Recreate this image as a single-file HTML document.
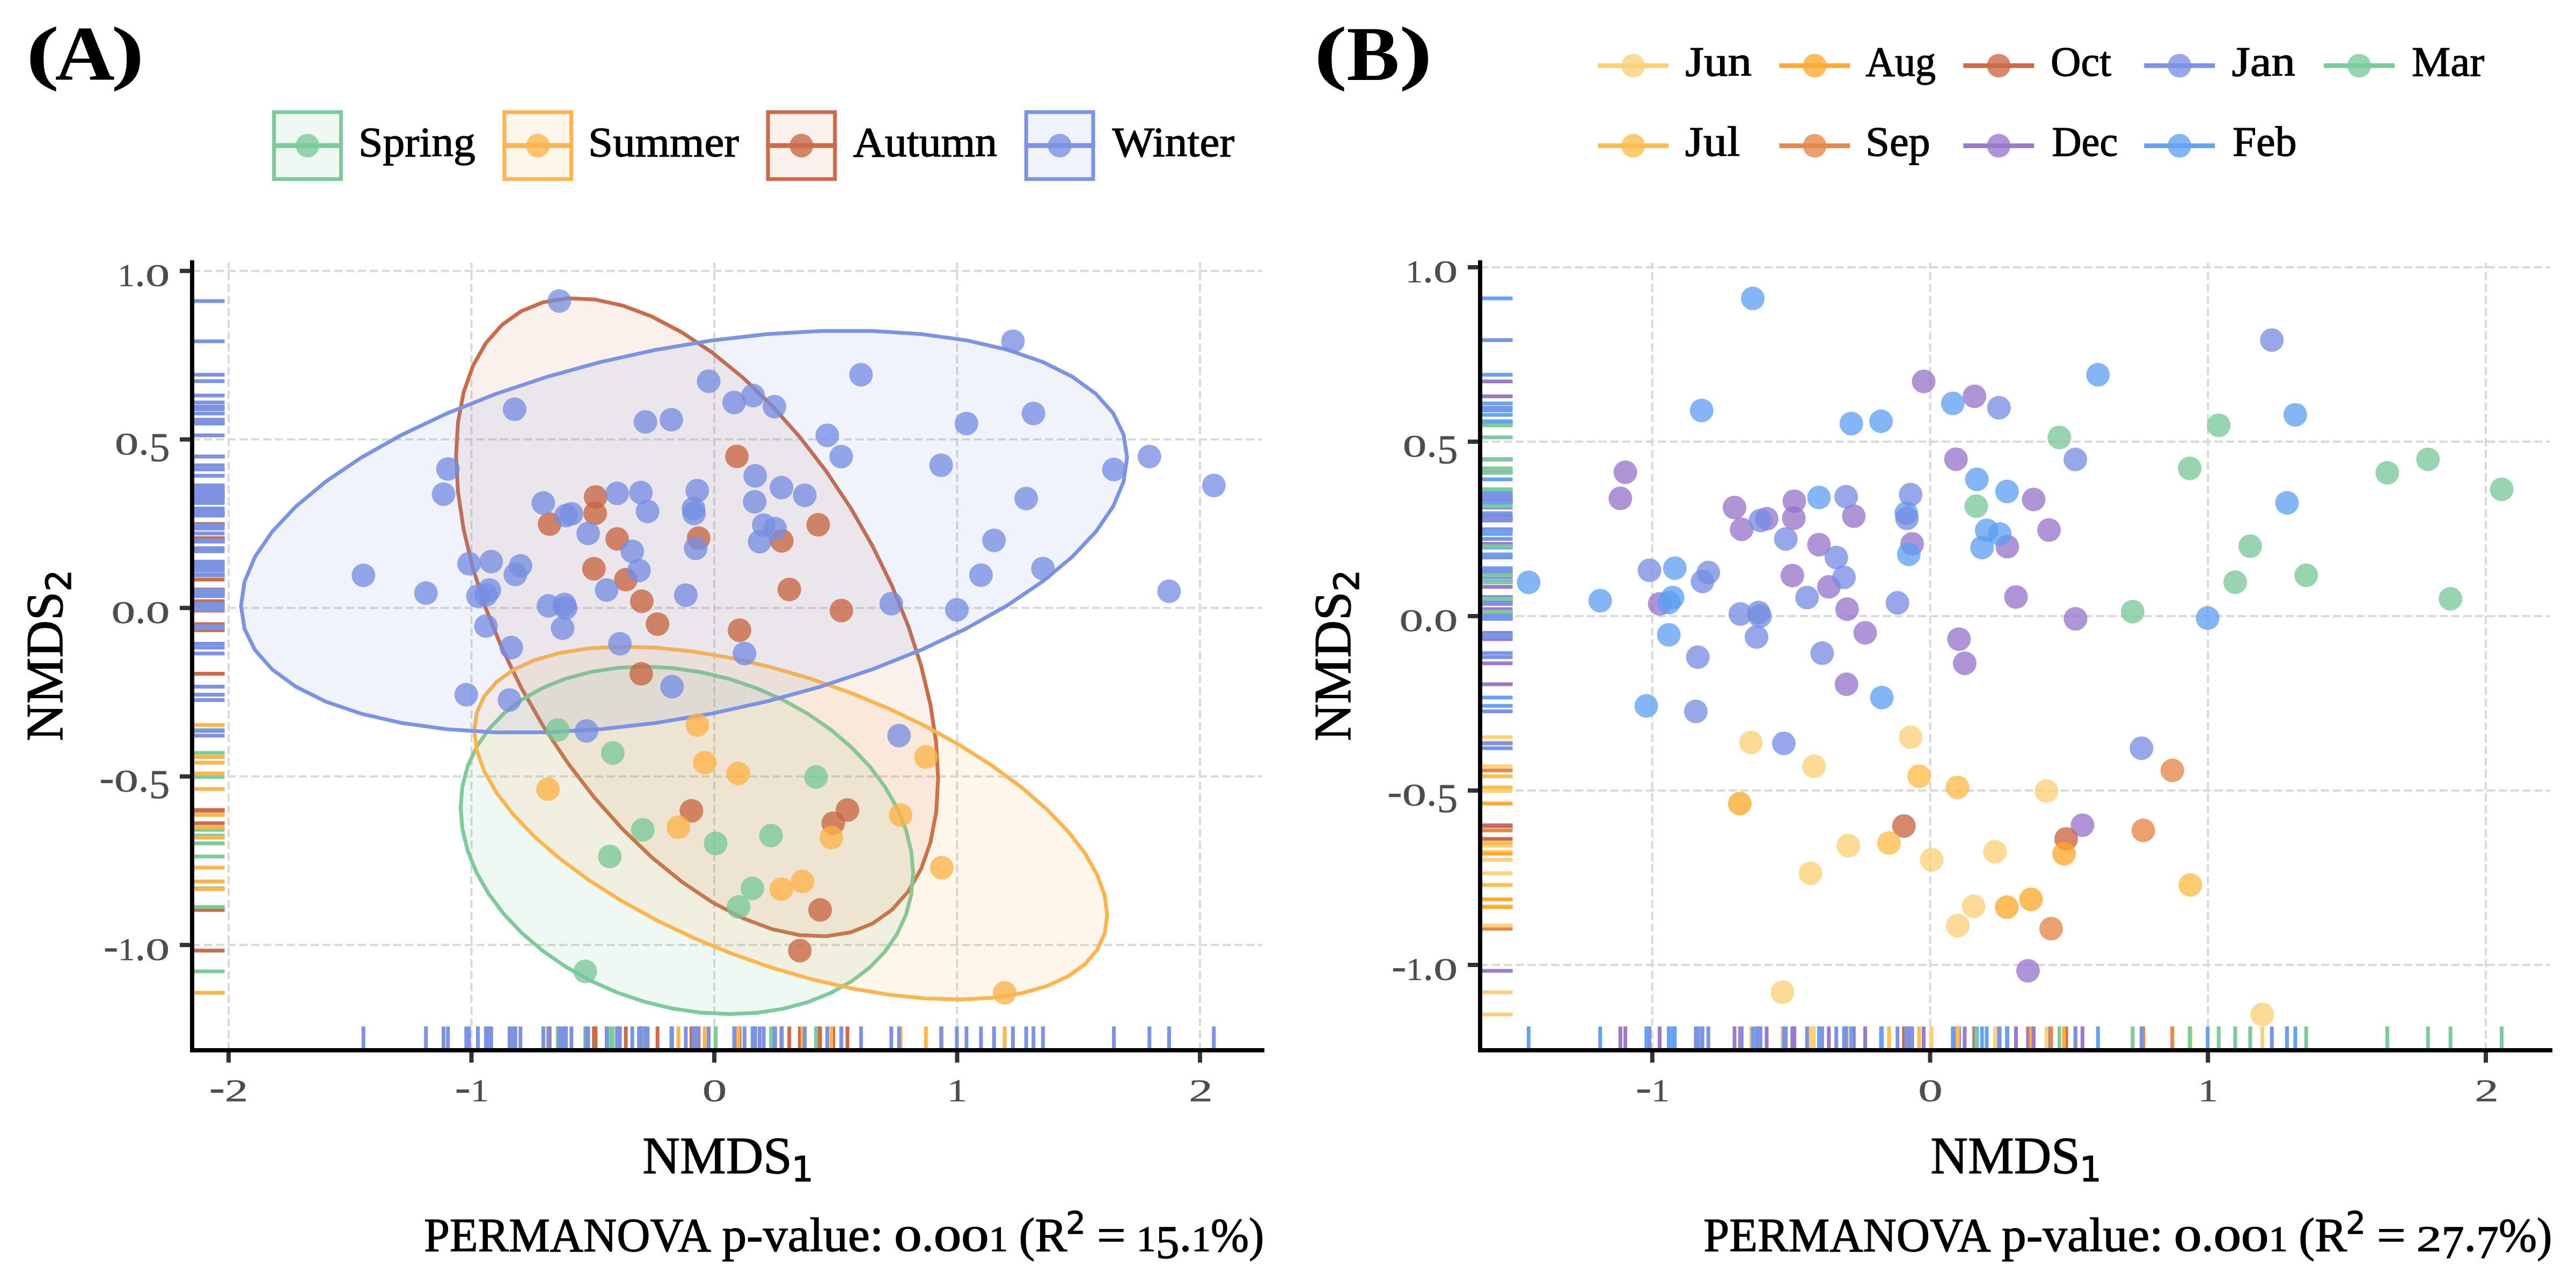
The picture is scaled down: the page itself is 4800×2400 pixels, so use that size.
<!DOCTYPE html>
<html lang="en"><head><meta charset="utf-8"><title>NMDS ordination</title><style>html,body{margin:0;padding:0;background:#fff}svg{display:block}</style></head><body>
<svg xmlns="http://www.w3.org/2000/svg" width="4800" height="2400" viewBox="0 0 4800 2400">
<rect width="4800" height="2400" fill="#fff"/>
<g>
<line x1="358" y1="504.8" x2="2352" y2="504.8" stroke="#D9D9D9" stroke-width="4" stroke-dasharray="15.2 6.87"/>
<line x1="358" y1="818.8" x2="2352" y2="818.8" stroke="#D9D9D9" stroke-width="4" stroke-dasharray="15.2 6.87"/>
<line x1="358" y1="1132.8" x2="2352" y2="1132.8" stroke="#D9D9D9" stroke-width="4" stroke-dasharray="15.2 6.87"/>
<line x1="358" y1="1446.8" x2="2352" y2="1446.8" stroke="#D9D9D9" stroke-width="4" stroke-dasharray="15.2 6.87"/>
<line x1="358" y1="1760.8" x2="2352" y2="1760.8" stroke="#D9D9D9" stroke-width="4" stroke-dasharray="15.2 6.87"/>
<line x1="426" y1="1957" x2="426" y2="489" stroke="#D9D9D9" stroke-width="4" stroke-dasharray="15.2 6.87"/>
<line x1="878.5" y1="1957" x2="878.5" y2="489" stroke="#D9D9D9" stroke-width="4" stroke-dasharray="15.2 6.87"/>
<line x1="1331" y1="1957" x2="1331" y2="489" stroke="#D9D9D9" stroke-width="4" stroke-dasharray="15.2 6.87"/>
<line x1="1783.5" y1="1957" x2="1783.5" y2="489" stroke="#D9D9D9" stroke-width="4" stroke-dasharray="15.2 6.87"/>
<line x1="2236" y1="1957" x2="2236" y2="489" stroke="#D9D9D9" stroke-width="4" stroke-dasharray="15.2 6.87"/>
<path d="M1748 1451 L1744.5 1384.4 L1733.9 1314 L1716.5 1241 L1692.5 1166.7 L1662.2 1092 L1626.3 1018.3 L1585.2 946.6 L1539.6 878.2 L1490.1 814.1 L1437.7 755.2 L1383.1 702.6 L1327.1 657 L1270.7 619.3 L1214.7 589.8 L1160.1 569.3 L1107.7 557.9 L1058.2 555.8 L1012.6 563.1 L971.5 579.7 L935.6 605.2 L905.3 639.4 L881.3 681.6 L863.9 731.2 L853.3 787.4 L849.8 849.3 L853.3 916 L863.9 986.4 L881.3 1059.3 L905.3 1133.7 L935.6 1208.3 L971.5 1282.1 L1012.6 1353.7 L1058.2 1422.1 L1107.7 1486.3 L1160.1 1545.1 L1214.7 1597.8 L1270.7 1643.3 L1327.1 1681.1 L1383.1 1710.5 L1437.7 1731.1 L1490.1 1742.5 L1539.6 1744.6 L1585.2 1737.3 L1626.3 1720.7 L1662.2 1695.1 L1692.5 1661 L1716.5 1618.8 L1733.9 1569.2 L1744.5 1513 L1748 1451 Z" fill="#CD7341" fill-opacity="0.1" stroke="#CB6B47" stroke-width="7" stroke-linejoin="round"/>
<path d="M1701.5 1627.2 L1698.1 1586.9 L1688.2 1546.2 L1671.9 1505.9 L1649.3 1466.5 L1621 1428.6 L1587.2 1393 L1548.6 1360 L1505.8 1330.3 L1459.4 1304.4 L1410.2 1282.5 L1358.9 1265.1 L1306.4 1252.5 L1253.4 1244.8 L1200.9 1242.1 L1149.6 1244.6 L1100.4 1252.1 L1054 1264.6 L1011.2 1281.8 L972.6 1303.5 L938.9 1329.4 L910.5 1359 L888 1391.8 L871.6 1427.4 L861.7 1465.2 L858.3 1504.5 L861.7 1544.9 L871.6 1585.5 L888 1625.9 L910.5 1665.3 L938.9 1703.1 L972.6 1738.8 L1011.2 1771.7 L1054 1801.4 L1100.4 1827.4 L1149.6 1849.2 L1200.9 1866.6 L1253.4 1879.3 L1306.4 1887 L1358.9 1889.6 L1410.2 1887.2 L1459.4 1879.6 L1505.8 1867.1 L1548.6 1849.9 L1587.2 1828.2 L1621 1802.4 L1649.3 1772.8 L1671.9 1739.9 L1688.2 1704.3 L1698.1 1666.6 L1701.5 1627.2 Z" fill="#69B987" fill-opacity="0.1" stroke="#7CCB9B" stroke-width="7" stroke-linejoin="round"/>
<path d="M2063.2 1705.5 L2058.5 1669 L2044.6 1630.4 L2021.8 1590.2 L1990.2 1549.2 L1950.5 1507.9 L1903.3 1467 L1849.4 1427.2 L1789.4 1389 L1724.6 1353.2 L1655.7 1320.2 L1584 1290.5 L1510.5 1264.7 L1436.5 1243.1 L1363 1226.1 L1291.3 1213.9 L1222.4 1206.8 L1157.5 1204.9 L1097.6 1208.1 L1043.6 1216.5 L996.4 1229.9 L956.7 1248 L925.2 1270.7 L902.3 1297.5 L888.4 1328 L883.8 1361.8 L888.4 1398.3 L902.3 1436.9 L925.2 1477.1 L956.7 1518.1 L996.4 1559.4 L1043.6 1600.3 L1097.6 1640.1 L1157.5 1678.3 L1222.4 1714.1 L1291.3 1747.2 L1363 1776.8 L1436.5 1802.6 L1510.5 1824.2 L1584 1841.2 L1655.7 1853.4 L1724.6 1860.5 L1789.4 1862.4 L1849.4 1859.2 L1903.3 1850.8 L1950.5 1837.5 L1990.2 1819.3 L2021.8 1796.6 L2044.6 1769.8 L2058.5 1739.3 L2063.2 1705.5 Z" fill="#FFA537" fill-opacity="0.1" stroke="#FFB54D" stroke-width="7" stroke-linejoin="round"/>
<path d="M2100.2 852.5 L2093.7 810 L2074.3 770.3 L2042.2 734 L1998.1 701.8 L1942.5 674.2 L1876.5 651.5 L1800.9 634.2 L1717 622.6 L1626.1 616.7 L1529.8 616.7 L1429.3 622.6 L1326.5 634.4 L1222.8 651.7 L1119.9 674.4 L1019.5 702.1 L923.1 734.3 L832.3 770.6 L748.4 810.3 L672.8 852.9 L606.7 897.7 L551.2 943.9 L507 990.9 L475 1037.8 L455.6 1084 L449.1 1128.8 L455.6 1171.4 L475 1211.1 L507 1247.3 L551.2 1279.5 L606.7 1307.2 L672.8 1329.8 L748.4 1347.1 L832.3 1358.8 L923.1 1364.7 L1019.5 1364.6 L1119.9 1358.7 L1222.8 1347 L1326.5 1329.6 L1429.3 1306.9 L1529.8 1279.3 L1626.1 1247 L1717 1210.8 L1800.9 1171 L1876.5 1128.4 L1942.5 1083.7 L1998.1 1037.4 L2042.2 990.5 L2074.3 943.5 L2093.7 897.3 L2100.2 852.5 Z" fill="#6987E1" fill-opacity="0.1" stroke="#7C92E3" stroke-width="7" stroke-linejoin="round"/>
<circle cx="1373.1" cy="850.4" r="22" fill="#C8633D" fill-opacity="0.76"/>
<circle cx="1024.1" cy="976.6" r="22" fill="#C8633D" fill-opacity="0.76"/>
<circle cx="1109.9" cy="925.9" r="22" fill="#C8633D" fill-opacity="0.76"/>
<circle cx="1109" cy="956.5" r="22" fill="#C8633D" fill-opacity="0.76"/>
<circle cx="1150" cy="1004.2" r="22" fill="#C8633D" fill-opacity="0.76"/>
<circle cx="1106.7" cy="1059.8" r="22" fill="#C8633D" fill-opacity="0.76"/>
<circle cx="1166.1" cy="1080.1" r="22" fill="#C8633D" fill-opacity="0.76"/>
<circle cx="1195.9" cy="1120.3" r="22" fill="#C8633D" fill-opacity="0.76"/>
<circle cx="1225.2" cy="1162.9" r="22" fill="#C8633D" fill-opacity="0.76"/>
<circle cx="1301.7" cy="1002.8" r="22" fill="#C8633D" fill-opacity="0.76"/>
<circle cx="1456.8" cy="1007.8" r="22" fill="#C8633D" fill-opacity="0.76"/>
<circle cx="1524.6" cy="977.8" r="22" fill="#C8633D" fill-opacity="0.76"/>
<circle cx="1470.8" cy="1098.4" r="22" fill="#C8633D" fill-opacity="0.76"/>
<circle cx="1567.8" cy="1137.7" r="22" fill="#C8633D" fill-opacity="0.76"/>
<circle cx="1378" cy="1174.3" r="22" fill="#C8633D" fill-opacity="0.76"/>
<circle cx="1194.8" cy="1255.5" r="22" fill="#C8633D" fill-opacity="0.76"/>
<circle cx="1579.1" cy="1509.3" r="22" fill="#C8633D" fill-opacity="0.76"/>
<circle cx="1490.4" cy="1771.3" r="22" fill="#C8633D" fill-opacity="0.76"/>
<circle cx="1288.4" cy="1510.8" r="22" fill="#C8633D" fill-opacity="0.76"/>
<circle cx="1552.6" cy="1533.9" r="22" fill="#C8633D" fill-opacity="0.76"/>
<circle cx="1528.1" cy="1695.5" r="22" fill="#C8633D" fill-opacity="0.76"/>
<circle cx="1039.3" cy="1360.2" r="22" fill="#75C896" fill-opacity="0.76"/>
<circle cx="1141.9" cy="1403.1" r="22" fill="#75C896" fill-opacity="0.76"/>
<circle cx="1197.8" cy="1546.2" r="22" fill="#75C896" fill-opacity="0.76"/>
<circle cx="1136.2" cy="1595.9" r="22" fill="#75C896" fill-opacity="0.76"/>
<circle cx="1520.6" cy="1447.8" r="22" fill="#75C896" fill-opacity="0.76"/>
<circle cx="1436.7" cy="1557" r="22" fill="#75C896" fill-opacity="0.76"/>
<circle cx="1333.5" cy="1571.6" r="22" fill="#75C896" fill-opacity="0.76"/>
<circle cx="1090.6" cy="1810.1" r="22" fill="#75C896" fill-opacity="0.76"/>
<circle cx="1401.9" cy="1655.3" r="22" fill="#75C896" fill-opacity="0.76"/>
<circle cx="1376.1" cy="1690.1" r="22" fill="#75C896" fill-opacity="0.76"/>
<circle cx="1021.1" cy="1470.3" r="22" fill="#FFB144" fill-opacity="0.76"/>
<circle cx="1549.1" cy="1560.6" r="22" fill="#FFB144" fill-opacity="0.76"/>
<circle cx="1455.9" cy="1656.7" r="22" fill="#FFB144" fill-opacity="0.76"/>
<circle cx="1495.3" cy="1642.6" r="22" fill="#FFB144" fill-opacity="0.76"/>
<circle cx="1264.1" cy="1541.4" r="22" fill="#FFB144" fill-opacity="0.76"/>
<circle cx="1313.2" cy="1421.1" r="22" fill="#FFB144" fill-opacity="0.76"/>
<circle cx="1375.6" cy="1441.2" r="22" fill="#FFB144" fill-opacity="0.76"/>
<circle cx="1754.8" cy="1616.8" r="22" fill="#FFB144" fill-opacity="0.76"/>
<circle cx="1299.4" cy="1350.9" r="22" fill="#FFB144" fill-opacity="0.76"/>
<circle cx="1872" cy="1850" r="22" fill="#FFB144" fill-opacity="0.76"/>
<circle cx="1725.4" cy="1410.6" r="22" fill="#FFB144" fill-opacity="0.76"/>
<circle cx="1678.2" cy="1518.6" r="22" fill="#FFB144" fill-opacity="0.76"/>
<circle cx="1292.3" cy="947.5" r="22" fill="#758CE2" fill-opacity="0.76"/>
<circle cx="834.7" cy="873.9" r="22" fill="#758CE2" fill-opacity="0.76"/>
<circle cx="1320.5" cy="710.3" r="22" fill="#758CE2" fill-opacity="0.76"/>
<circle cx="1403.3" cy="737.1" r="22" fill="#758CE2" fill-opacity="0.76"/>
<circle cx="826.5" cy="920.8" r="22" fill="#758CE2" fill-opacity="0.76"/>
<circle cx="1012.4" cy="937.3" r="22" fill="#758CE2" fill-opacity="0.76"/>
<circle cx="1064.8" cy="957.4" r="22" fill="#758CE2" fill-opacity="0.76"/>
<circle cx="1206.7" cy="952.9" r="22" fill="#758CE2" fill-opacity="0.76"/>
<circle cx="890.5" cy="1110.8" r="22" fill="#758CE2" fill-opacity="0.76"/>
<circle cx="1499.6" cy="922.9" r="22" fill="#758CE2" fill-opacity="0.76"/>
<circle cx="1387.3" cy="1217.8" r="22" fill="#758CE2" fill-opacity="0.76"/>
<circle cx="1042.2" cy="560.9" r="22" fill="#758CE2" fill-opacity="0.76"/>
<circle cx="958.9" cy="762.6" r="22" fill="#758CE2" fill-opacity="0.76"/>
<circle cx="1202.7" cy="786.2" r="22" fill="#758CE2" fill-opacity="0.76"/>
<circle cx="1251" cy="782.1" r="22" fill="#758CE2" fill-opacity="0.76"/>
<circle cx="1368" cy="749.9" r="22" fill="#758CE2" fill-opacity="0.76"/>
<circle cx="1604.4" cy="698.3" r="22" fill="#758CE2" fill-opacity="0.76"/>
<circle cx="1407.2" cy="886.6" r="22" fill="#758CE2" fill-opacity="0.76"/>
<circle cx="1925.7" cy="770.4" r="22" fill="#758CE2" fill-opacity="0.76"/>
<circle cx="1150" cy="919.3" r="22" fill="#758CE2" fill-opacity="0.76"/>
<circle cx="915.3" cy="1046.5" r="22" fill="#758CE2" fill-opacity="0.76"/>
<circle cx="677.2" cy="1072" r="22" fill="#758CE2" fill-opacity="0.76"/>
<circle cx="793.7" cy="1105.1" r="22" fill="#758CE2" fill-opacity="0.76"/>
<circle cx="905.7" cy="1108.4" r="22" fill="#758CE2" fill-opacity="0.76"/>
<circle cx="911.8" cy="1099.4" r="22" fill="#758CE2" fill-opacity="0.76"/>
<circle cx="905.5" cy="1166.5" r="22" fill="#758CE2" fill-opacity="0.76"/>
<circle cx="1456.2" cy="908.5" r="22" fill="#758CE2" fill-opacity="0.76"/>
<circle cx="1296.3" cy="1021.6" r="22" fill="#758CE2" fill-opacity="0.76"/>
<circle cx="1423.1" cy="978.4" r="22" fill="#758CE2" fill-opacity="0.76"/>
<circle cx="1444.3" cy="985" r="22" fill="#758CE2" fill-opacity="0.76"/>
<circle cx="1415.5" cy="1009.3" r="22" fill="#758CE2" fill-opacity="0.76"/>
<circle cx="1912.2" cy="928.9" r="22" fill="#758CE2" fill-opacity="0.76"/>
<circle cx="1783" cy="1136.3" r="22" fill="#758CE2" fill-opacity="0.76"/>
<circle cx="1252.3" cy="1279.5" r="22" fill="#758CE2" fill-opacity="0.76"/>
<circle cx="868.8" cy="1294.4" r="22" fill="#758CE2" fill-opacity="0.76"/>
<circle cx="1443.1" cy="757.7" r="22" fill="#758CE2" fill-opacity="0.76"/>
<circle cx="1887.5" cy="635.9" r="22" fill="#758CE2" fill-opacity="0.76"/>
<circle cx="1567.5" cy="850.8" r="22" fill="#758CE2" fill-opacity="0.76"/>
<circle cx="1054.7" cy="960.7" r="22" fill="#758CE2" fill-opacity="0.76"/>
<circle cx="1194.2" cy="917.8" r="22" fill="#758CE2" fill-opacity="0.76"/>
<circle cx="1096" cy="994" r="22" fill="#758CE2" fill-opacity="0.76"/>
<circle cx="1178.2" cy="1027.3" r="22" fill="#758CE2" fill-opacity="0.76"/>
<circle cx="1190.7" cy="1063" r="22" fill="#758CE2" fill-opacity="0.76"/>
<circle cx="1130.5" cy="1099.4" r="22" fill="#758CE2" fill-opacity="0.76"/>
<circle cx="1277.9" cy="1108.9" r="22" fill="#758CE2" fill-opacity="0.76"/>
<circle cx="1155.2" cy="1199.6" r="22" fill="#758CE2" fill-opacity="0.76"/>
<circle cx="874" cy="1050.4" r="22" fill="#758CE2" fill-opacity="0.76"/>
<circle cx="969.8" cy="1054.3" r="22" fill="#758CE2" fill-opacity="0.76"/>
<circle cx="960.3" cy="1070.5" r="22" fill="#758CE2" fill-opacity="0.76"/>
<circle cx="1022" cy="1129" r="22" fill="#758CE2" fill-opacity="0.76"/>
<circle cx="1051.8" cy="1126.3" r="22" fill="#758CE2" fill-opacity="0.76"/>
<circle cx="1054" cy="1132.9" r="22" fill="#758CE2" fill-opacity="0.76"/>
<circle cx="1048.3" cy="1170.5" r="22" fill="#758CE2" fill-opacity="0.76"/>
<circle cx="952.7" cy="1206.7" r="22" fill="#758CE2" fill-opacity="0.76"/>
<circle cx="1299.3" cy="914.2" r="22" fill="#758CE2" fill-opacity="0.76"/>
<circle cx="1293.3" cy="956.8" r="22" fill="#758CE2" fill-opacity="0.76"/>
<circle cx="949.4" cy="1304.4" r="22" fill="#758CE2" fill-opacity="0.76"/>
<circle cx="1092.8" cy="1362" r="22" fill="#758CE2" fill-opacity="0.76"/>
<circle cx="1675.3" cy="1370.7" r="22" fill="#758CE2" fill-opacity="0.76"/>
<circle cx="1541.5" cy="811.2" r="22" fill="#758CE2" fill-opacity="0.76"/>
<circle cx="1800.9" cy="789.2" r="22" fill="#758CE2" fill-opacity="0.76"/>
<circle cx="1753.7" cy="866.9" r="22" fill="#758CE2" fill-opacity="0.76"/>
<circle cx="2141.8" cy="850.7" r="22" fill="#758CE2" fill-opacity="0.76"/>
<circle cx="2075.5" cy="874.8" r="22" fill="#758CE2" fill-opacity="0.76"/>
<circle cx="1406.2" cy="934.9" r="22" fill="#758CE2" fill-opacity="0.76"/>
<circle cx="1852.2" cy="1006.9" r="22" fill="#758CE2" fill-opacity="0.76"/>
<circle cx="1827.9" cy="1071.7" r="22" fill="#758CE2" fill-opacity="0.76"/>
<circle cx="1660.8" cy="1124.9" r="22" fill="#758CE2" fill-opacity="0.76"/>
<circle cx="2261.8" cy="904.6" r="22" fill="#758CE2" fill-opacity="0.76"/>
<circle cx="1943.4" cy="1059.4" r="22" fill="#758CE2" fill-opacity="0.76"/>
<circle cx="2178.4" cy="1101.7" r="22" fill="#758CE2" fill-opacity="0.76"/>
<line x1="1373.1" y1="1957" x2="1373.1" y2="1912.7" stroke="#CB6B47" stroke-width="7"/>
<line x1="1024.1" y1="1957" x2="1024.1" y2="1912.7" stroke="#CB6B47" stroke-width="7"/>
<line x1="1109.9" y1="1957" x2="1109.9" y2="1912.7" stroke="#CB6B47" stroke-width="7"/>
<line x1="1109" y1="1957" x2="1109" y2="1912.7" stroke="#CB6B47" stroke-width="7"/>
<line x1="1150" y1="1957" x2="1150" y2="1912.7" stroke="#CB6B47" stroke-width="7"/>
<line x1="1106.7" y1="1957" x2="1106.7" y2="1912.7" stroke="#CB6B47" stroke-width="7"/>
<line x1="1166.1" y1="1957" x2="1166.1" y2="1912.7" stroke="#CB6B47" stroke-width="7"/>
<line x1="1195.9" y1="1957" x2="1195.9" y2="1912.7" stroke="#CB6B47" stroke-width="7"/>
<line x1="1225.2" y1="1957" x2="1225.2" y2="1912.7" stroke="#CB6B47" stroke-width="7"/>
<line x1="1301.7" y1="1957" x2="1301.7" y2="1912.7" stroke="#CB6B47" stroke-width="7"/>
<line x1="1456.8" y1="1957" x2="1456.8" y2="1912.7" stroke="#CB6B47" stroke-width="7"/>
<line x1="1524.6" y1="1957" x2="1524.6" y2="1912.7" stroke="#CB6B47" stroke-width="7"/>
<line x1="1470.8" y1="1957" x2="1470.8" y2="1912.7" stroke="#CB6B47" stroke-width="7"/>
<line x1="1567.8" y1="1957" x2="1567.8" y2="1912.7" stroke="#CB6B47" stroke-width="7"/>
<line x1="1378" y1="1957" x2="1378" y2="1912.7" stroke="#CB6B47" stroke-width="7"/>
<line x1="1194.8" y1="1957" x2="1194.8" y2="1912.7" stroke="#CB6B47" stroke-width="7"/>
<line x1="1579.1" y1="1957" x2="1579.1" y2="1912.7" stroke="#CB6B47" stroke-width="7"/>
<line x1="1490.4" y1="1957" x2="1490.4" y2="1912.7" stroke="#CB6B47" stroke-width="7"/>
<line x1="1288.4" y1="1957" x2="1288.4" y2="1912.7" stroke="#CB6B47" stroke-width="7"/>
<line x1="1552.6" y1="1957" x2="1552.6" y2="1912.7" stroke="#CB6B47" stroke-width="7"/>
<line x1="1528.1" y1="1957" x2="1528.1" y2="1912.7" stroke="#CB6B47" stroke-width="7"/>
<line x1="1039.3" y1="1957" x2="1039.3" y2="1912.7" stroke="#7CCB9B" stroke-width="7"/>
<line x1="1141.9" y1="1957" x2="1141.9" y2="1912.7" stroke="#7CCB9B" stroke-width="7"/>
<line x1="1197.8" y1="1957" x2="1197.8" y2="1912.7" stroke="#7CCB9B" stroke-width="7"/>
<line x1="1136.2" y1="1957" x2="1136.2" y2="1912.7" stroke="#7CCB9B" stroke-width="7"/>
<line x1="1520.6" y1="1957" x2="1520.6" y2="1912.7" stroke="#7CCB9B" stroke-width="7"/>
<line x1="1436.7" y1="1957" x2="1436.7" y2="1912.7" stroke="#7CCB9B" stroke-width="7"/>
<line x1="1333.5" y1="1957" x2="1333.5" y2="1912.7" stroke="#7CCB9B" stroke-width="7"/>
<line x1="1090.6" y1="1957" x2="1090.6" y2="1912.7" stroke="#7CCB9B" stroke-width="7"/>
<line x1="1401.9" y1="1957" x2="1401.9" y2="1912.7" stroke="#7CCB9B" stroke-width="7"/>
<line x1="1376.1" y1="1957" x2="1376.1" y2="1912.7" stroke="#7CCB9B" stroke-width="7"/>
<line x1="1021.1" y1="1957" x2="1021.1" y2="1912.7" stroke="#FFB54D" stroke-width="7"/>
<line x1="1549.1" y1="1957" x2="1549.1" y2="1912.7" stroke="#FFB54D" stroke-width="7"/>
<line x1="1455.9" y1="1957" x2="1455.9" y2="1912.7" stroke="#FFB54D" stroke-width="7"/>
<line x1="1495.3" y1="1957" x2="1495.3" y2="1912.7" stroke="#FFB54D" stroke-width="7"/>
<line x1="1264.1" y1="1957" x2="1264.1" y2="1912.7" stroke="#FFB54D" stroke-width="7"/>
<line x1="1313.2" y1="1957" x2="1313.2" y2="1912.7" stroke="#FFB54D" stroke-width="7"/>
<line x1="1375.6" y1="1957" x2="1375.6" y2="1912.7" stroke="#FFB54D" stroke-width="7"/>
<line x1="1754.8" y1="1957" x2="1754.8" y2="1912.7" stroke="#FFB54D" stroke-width="7"/>
<line x1="1299.4" y1="1957" x2="1299.4" y2="1912.7" stroke="#FFB54D" stroke-width="7"/>
<line x1="1872" y1="1957" x2="1872" y2="1912.7" stroke="#FFB54D" stroke-width="7"/>
<line x1="1725.4" y1="1957" x2="1725.4" y2="1912.7" stroke="#FFB54D" stroke-width="7"/>
<line x1="1678.2" y1="1957" x2="1678.2" y2="1912.7" stroke="#FFB54D" stroke-width="7"/>
<line x1="1292.3" y1="1957" x2="1292.3" y2="1912.7" stroke="#7C92E3" stroke-width="7"/>
<line x1="834.7" y1="1957" x2="834.7" y2="1912.7" stroke="#7C92E3" stroke-width="7"/>
<line x1="1320.5" y1="1957" x2="1320.5" y2="1912.7" stroke="#7C92E3" stroke-width="7"/>
<line x1="1403.3" y1="1957" x2="1403.3" y2="1912.7" stroke="#7C92E3" stroke-width="7"/>
<line x1="826.5" y1="1957" x2="826.5" y2="1912.7" stroke="#7C92E3" stroke-width="7"/>
<line x1="1012.4" y1="1957" x2="1012.4" y2="1912.7" stroke="#7C92E3" stroke-width="7"/>
<line x1="1064.8" y1="1957" x2="1064.8" y2="1912.7" stroke="#7C92E3" stroke-width="7"/>
<line x1="1206.7" y1="1957" x2="1206.7" y2="1912.7" stroke="#7C92E3" stroke-width="7"/>
<line x1="890.5" y1="1957" x2="890.5" y2="1912.7" stroke="#7C92E3" stroke-width="7"/>
<line x1="1499.6" y1="1957" x2="1499.6" y2="1912.7" stroke="#7C92E3" stroke-width="7"/>
<line x1="1387.3" y1="1957" x2="1387.3" y2="1912.7" stroke="#7C92E3" stroke-width="7"/>
<line x1="1042.2" y1="1957" x2="1042.2" y2="1912.7" stroke="#7C92E3" stroke-width="7"/>
<line x1="958.9" y1="1957" x2="958.9" y2="1912.7" stroke="#7C92E3" stroke-width="7"/>
<line x1="1202.7" y1="1957" x2="1202.7" y2="1912.7" stroke="#7C92E3" stroke-width="7"/>
<line x1="1251" y1="1957" x2="1251" y2="1912.7" stroke="#7C92E3" stroke-width="7"/>
<line x1="1368" y1="1957" x2="1368" y2="1912.7" stroke="#7C92E3" stroke-width="7"/>
<line x1="1604.4" y1="1957" x2="1604.4" y2="1912.7" stroke="#7C92E3" stroke-width="7"/>
<line x1="1407.2" y1="1957" x2="1407.2" y2="1912.7" stroke="#7C92E3" stroke-width="7"/>
<line x1="1925.7" y1="1957" x2="1925.7" y2="1912.7" stroke="#7C92E3" stroke-width="7"/>
<line x1="1150" y1="1957" x2="1150" y2="1912.7" stroke="#7C92E3" stroke-width="7"/>
<line x1="915.3" y1="1957" x2="915.3" y2="1912.7" stroke="#7C92E3" stroke-width="7"/>
<line x1="677.2" y1="1957" x2="677.2" y2="1912.7" stroke="#7C92E3" stroke-width="7"/>
<line x1="793.7" y1="1957" x2="793.7" y2="1912.7" stroke="#7C92E3" stroke-width="7"/>
<line x1="905.7" y1="1957" x2="905.7" y2="1912.7" stroke="#7C92E3" stroke-width="7"/>
<line x1="911.8" y1="1957" x2="911.8" y2="1912.7" stroke="#7C92E3" stroke-width="7"/>
<line x1="905.5" y1="1957" x2="905.5" y2="1912.7" stroke="#7C92E3" stroke-width="7"/>
<line x1="1456.2" y1="1957" x2="1456.2" y2="1912.7" stroke="#7C92E3" stroke-width="7"/>
<line x1="1296.3" y1="1957" x2="1296.3" y2="1912.7" stroke="#7C92E3" stroke-width="7"/>
<line x1="1423.1" y1="1957" x2="1423.1" y2="1912.7" stroke="#7C92E3" stroke-width="7"/>
<line x1="1444.3" y1="1957" x2="1444.3" y2="1912.7" stroke="#7C92E3" stroke-width="7"/>
<line x1="1415.5" y1="1957" x2="1415.5" y2="1912.7" stroke="#7C92E3" stroke-width="7"/>
<line x1="1912.2" y1="1957" x2="1912.2" y2="1912.7" stroke="#7C92E3" stroke-width="7"/>
<line x1="1783" y1="1957" x2="1783" y2="1912.7" stroke="#7C92E3" stroke-width="7"/>
<line x1="1252.3" y1="1957" x2="1252.3" y2="1912.7" stroke="#7C92E3" stroke-width="7"/>
<line x1="868.8" y1="1957" x2="868.8" y2="1912.7" stroke="#7C92E3" stroke-width="7"/>
<line x1="1443.1" y1="1957" x2="1443.1" y2="1912.7" stroke="#7C92E3" stroke-width="7"/>
<line x1="1887.5" y1="1957" x2="1887.5" y2="1912.7" stroke="#7C92E3" stroke-width="7"/>
<line x1="1567.5" y1="1957" x2="1567.5" y2="1912.7" stroke="#7C92E3" stroke-width="7"/>
<line x1="1054.7" y1="1957" x2="1054.7" y2="1912.7" stroke="#7C92E3" stroke-width="7"/>
<line x1="1194.2" y1="1957" x2="1194.2" y2="1912.7" stroke="#7C92E3" stroke-width="7"/>
<line x1="1096" y1="1957" x2="1096" y2="1912.7" stroke="#7C92E3" stroke-width="7"/>
<line x1="1178.2" y1="1957" x2="1178.2" y2="1912.7" stroke="#7C92E3" stroke-width="7"/>
<line x1="1190.7" y1="1957" x2="1190.7" y2="1912.7" stroke="#7C92E3" stroke-width="7"/>
<line x1="1130.5" y1="1957" x2="1130.5" y2="1912.7" stroke="#7C92E3" stroke-width="7"/>
<line x1="1277.9" y1="1957" x2="1277.9" y2="1912.7" stroke="#7C92E3" stroke-width="7"/>
<line x1="1155.2" y1="1957" x2="1155.2" y2="1912.7" stroke="#7C92E3" stroke-width="7"/>
<line x1="874" y1="1957" x2="874" y2="1912.7" stroke="#7C92E3" stroke-width="7"/>
<line x1="969.8" y1="1957" x2="969.8" y2="1912.7" stroke="#7C92E3" stroke-width="7"/>
<line x1="960.3" y1="1957" x2="960.3" y2="1912.7" stroke="#7C92E3" stroke-width="7"/>
<line x1="1022" y1="1957" x2="1022" y2="1912.7" stroke="#7C92E3" stroke-width="7"/>
<line x1="1051.8" y1="1957" x2="1051.8" y2="1912.7" stroke="#7C92E3" stroke-width="7"/>
<line x1="1054" y1="1957" x2="1054" y2="1912.7" stroke="#7C92E3" stroke-width="7"/>
<line x1="1048.3" y1="1957" x2="1048.3" y2="1912.7" stroke="#7C92E3" stroke-width="7"/>
<line x1="952.7" y1="1957" x2="952.7" y2="1912.7" stroke="#7C92E3" stroke-width="7"/>
<line x1="1299.3" y1="1957" x2="1299.3" y2="1912.7" stroke="#7C92E3" stroke-width="7"/>
<line x1="1293.3" y1="1957" x2="1293.3" y2="1912.7" stroke="#7C92E3" stroke-width="7"/>
<line x1="949.4" y1="1957" x2="949.4" y2="1912.7" stroke="#7C92E3" stroke-width="7"/>
<line x1="1092.8" y1="1957" x2="1092.8" y2="1912.7" stroke="#7C92E3" stroke-width="7"/>
<line x1="1675.3" y1="1957" x2="1675.3" y2="1912.7" stroke="#7C92E3" stroke-width="7"/>
<line x1="1541.5" y1="1957" x2="1541.5" y2="1912.7" stroke="#7C92E3" stroke-width="7"/>
<line x1="1800.9" y1="1957" x2="1800.9" y2="1912.7" stroke="#7C92E3" stroke-width="7"/>
<line x1="1753.7" y1="1957" x2="1753.7" y2="1912.7" stroke="#7C92E3" stroke-width="7"/>
<line x1="2141.8" y1="1957" x2="2141.8" y2="1912.7" stroke="#7C92E3" stroke-width="7"/>
<line x1="2075.5" y1="1957" x2="2075.5" y2="1912.7" stroke="#7C92E3" stroke-width="7"/>
<line x1="1406.2" y1="1957" x2="1406.2" y2="1912.7" stroke="#7C92E3" stroke-width="7"/>
<line x1="1852.2" y1="1957" x2="1852.2" y2="1912.7" stroke="#7C92E3" stroke-width="7"/>
<line x1="1827.9" y1="1957" x2="1827.9" y2="1912.7" stroke="#7C92E3" stroke-width="7"/>
<line x1="1660.8" y1="1957" x2="1660.8" y2="1912.7" stroke="#7C92E3" stroke-width="7"/>
<line x1="2261.8" y1="1957" x2="2261.8" y2="1912.7" stroke="#7C92E3" stroke-width="7"/>
<line x1="1943.4" y1="1957" x2="1943.4" y2="1912.7" stroke="#7C92E3" stroke-width="7"/>
<line x1="2178.4" y1="1957" x2="2178.4" y2="1912.7" stroke="#7C92E3" stroke-width="7"/>
<line x1="358" y1="850.4" x2="418.5" y2="850.4" stroke="#CB6B47" stroke-width="7"/>
<line x1="358" y1="976.6" x2="418.5" y2="976.6" stroke="#CB6B47" stroke-width="7"/>
<line x1="358" y1="925.9" x2="418.5" y2="925.9" stroke="#CB6B47" stroke-width="7"/>
<line x1="358" y1="956.5" x2="418.5" y2="956.5" stroke="#CB6B47" stroke-width="7"/>
<line x1="358" y1="1004.2" x2="418.5" y2="1004.2" stroke="#CB6B47" stroke-width="7"/>
<line x1="358" y1="1059.8" x2="418.5" y2="1059.8" stroke="#CB6B47" stroke-width="7"/>
<line x1="358" y1="1080.1" x2="418.5" y2="1080.1" stroke="#CB6B47" stroke-width="7"/>
<line x1="358" y1="1120.3" x2="418.5" y2="1120.3" stroke="#CB6B47" stroke-width="7"/>
<line x1="358" y1="1162.9" x2="418.5" y2="1162.9" stroke="#CB6B47" stroke-width="7"/>
<line x1="358" y1="1002.8" x2="418.5" y2="1002.8" stroke="#CB6B47" stroke-width="7"/>
<line x1="358" y1="1007.8" x2="418.5" y2="1007.8" stroke="#CB6B47" stroke-width="7"/>
<line x1="358" y1="977.8" x2="418.5" y2="977.8" stroke="#CB6B47" stroke-width="7"/>
<line x1="358" y1="1098.4" x2="418.5" y2="1098.4" stroke="#CB6B47" stroke-width="7"/>
<line x1="358" y1="1137.7" x2="418.5" y2="1137.7" stroke="#CB6B47" stroke-width="7"/>
<line x1="358" y1="1174.3" x2="418.5" y2="1174.3" stroke="#CB6B47" stroke-width="7"/>
<line x1="358" y1="1255.5" x2="418.5" y2="1255.5" stroke="#CB6B47" stroke-width="7"/>
<line x1="358" y1="1509.3" x2="418.5" y2="1509.3" stroke="#CB6B47" stroke-width="7"/>
<line x1="358" y1="1771.3" x2="418.5" y2="1771.3" stroke="#CB6B47" stroke-width="7"/>
<line x1="358" y1="1510.8" x2="418.5" y2="1510.8" stroke="#CB6B47" stroke-width="7"/>
<line x1="358" y1="1533.9" x2="418.5" y2="1533.9" stroke="#CB6B47" stroke-width="7"/>
<line x1="358" y1="1695.5" x2="418.5" y2="1695.5" stroke="#CB6B47" stroke-width="7"/>
<line x1="358" y1="1360.2" x2="418.5" y2="1360.2" stroke="#7CCB9B" stroke-width="7"/>
<line x1="358" y1="1403.1" x2="418.5" y2="1403.1" stroke="#7CCB9B" stroke-width="7"/>
<line x1="358" y1="1546.2" x2="418.5" y2="1546.2" stroke="#7CCB9B" stroke-width="7"/>
<line x1="358" y1="1595.9" x2="418.5" y2="1595.9" stroke="#7CCB9B" stroke-width="7"/>
<line x1="358" y1="1447.8" x2="418.5" y2="1447.8" stroke="#7CCB9B" stroke-width="7"/>
<line x1="358" y1="1557" x2="418.5" y2="1557" stroke="#7CCB9B" stroke-width="7"/>
<line x1="358" y1="1571.6" x2="418.5" y2="1571.6" stroke="#7CCB9B" stroke-width="7"/>
<line x1="358" y1="1810.1" x2="418.5" y2="1810.1" stroke="#7CCB9B" stroke-width="7"/>
<line x1="358" y1="1655.3" x2="418.5" y2="1655.3" stroke="#7CCB9B" stroke-width="7"/>
<line x1="358" y1="1690.1" x2="418.5" y2="1690.1" stroke="#7CCB9B" stroke-width="7"/>
<line x1="358" y1="1470.3" x2="418.5" y2="1470.3" stroke="#FFB54D" stroke-width="7"/>
<line x1="358" y1="1560.6" x2="418.5" y2="1560.6" stroke="#FFB54D" stroke-width="7"/>
<line x1="358" y1="1656.7" x2="418.5" y2="1656.7" stroke="#FFB54D" stroke-width="7"/>
<line x1="358" y1="1642.6" x2="418.5" y2="1642.6" stroke="#FFB54D" stroke-width="7"/>
<line x1="358" y1="1541.4" x2="418.5" y2="1541.4" stroke="#FFB54D" stroke-width="7"/>
<line x1="358" y1="1421.1" x2="418.5" y2="1421.1" stroke="#FFB54D" stroke-width="7"/>
<line x1="358" y1="1441.2" x2="418.5" y2="1441.2" stroke="#FFB54D" stroke-width="7"/>
<line x1="358" y1="1616.8" x2="418.5" y2="1616.8" stroke="#FFB54D" stroke-width="7"/>
<line x1="358" y1="1350.9" x2="418.5" y2="1350.9" stroke="#FFB54D" stroke-width="7"/>
<line x1="358" y1="1850" x2="418.5" y2="1850" stroke="#FFB54D" stroke-width="7"/>
<line x1="358" y1="1410.6" x2="418.5" y2="1410.6" stroke="#FFB54D" stroke-width="7"/>
<line x1="358" y1="1518.6" x2="418.5" y2="1518.6" stroke="#FFB54D" stroke-width="7"/>
<line x1="358" y1="947.5" x2="418.5" y2="947.5" stroke="#7C92E3" stroke-width="7"/>
<line x1="358" y1="873.9" x2="418.5" y2="873.9" stroke="#7C92E3" stroke-width="7"/>
<line x1="358" y1="710.3" x2="418.5" y2="710.3" stroke="#7C92E3" stroke-width="7"/>
<line x1="358" y1="737.1" x2="418.5" y2="737.1" stroke="#7C92E3" stroke-width="7"/>
<line x1="358" y1="920.8" x2="418.5" y2="920.8" stroke="#7C92E3" stroke-width="7"/>
<line x1="358" y1="937.3" x2="418.5" y2="937.3" stroke="#7C92E3" stroke-width="7"/>
<line x1="358" y1="957.4" x2="418.5" y2="957.4" stroke="#7C92E3" stroke-width="7"/>
<line x1="358" y1="952.9" x2="418.5" y2="952.9" stroke="#7C92E3" stroke-width="7"/>
<line x1="358" y1="1110.8" x2="418.5" y2="1110.8" stroke="#7C92E3" stroke-width="7"/>
<line x1="358" y1="922.9" x2="418.5" y2="922.9" stroke="#7C92E3" stroke-width="7"/>
<line x1="358" y1="1217.8" x2="418.5" y2="1217.8" stroke="#7C92E3" stroke-width="7"/>
<line x1="358" y1="560.9" x2="418.5" y2="560.9" stroke="#7C92E3" stroke-width="7"/>
<line x1="358" y1="762.6" x2="418.5" y2="762.6" stroke="#7C92E3" stroke-width="7"/>
<line x1="358" y1="786.2" x2="418.5" y2="786.2" stroke="#7C92E3" stroke-width="7"/>
<line x1="358" y1="782.1" x2="418.5" y2="782.1" stroke="#7C92E3" stroke-width="7"/>
<line x1="358" y1="749.9" x2="418.5" y2="749.9" stroke="#7C92E3" stroke-width="7"/>
<line x1="358" y1="698.3" x2="418.5" y2="698.3" stroke="#7C92E3" stroke-width="7"/>
<line x1="358" y1="886.6" x2="418.5" y2="886.6" stroke="#7C92E3" stroke-width="7"/>
<line x1="358" y1="770.4" x2="418.5" y2="770.4" stroke="#7C92E3" stroke-width="7"/>
<line x1="358" y1="919.3" x2="418.5" y2="919.3" stroke="#7C92E3" stroke-width="7"/>
<line x1="358" y1="1046.5" x2="418.5" y2="1046.5" stroke="#7C92E3" stroke-width="7"/>
<line x1="358" y1="1072" x2="418.5" y2="1072" stroke="#7C92E3" stroke-width="7"/>
<line x1="358" y1="1105.1" x2="418.5" y2="1105.1" stroke="#7C92E3" stroke-width="7"/>
<line x1="358" y1="1108.4" x2="418.5" y2="1108.4" stroke="#7C92E3" stroke-width="7"/>
<line x1="358" y1="1099.4" x2="418.5" y2="1099.4" stroke="#7C92E3" stroke-width="7"/>
<line x1="358" y1="1166.5" x2="418.5" y2="1166.5" stroke="#7C92E3" stroke-width="7"/>
<line x1="358" y1="908.5" x2="418.5" y2="908.5" stroke="#7C92E3" stroke-width="7"/>
<line x1="358" y1="1021.6" x2="418.5" y2="1021.6" stroke="#7C92E3" stroke-width="7"/>
<line x1="358" y1="978.4" x2="418.5" y2="978.4" stroke="#7C92E3" stroke-width="7"/>
<line x1="358" y1="985" x2="418.5" y2="985" stroke="#7C92E3" stroke-width="7"/>
<line x1="358" y1="1009.3" x2="418.5" y2="1009.3" stroke="#7C92E3" stroke-width="7"/>
<line x1="358" y1="928.9" x2="418.5" y2="928.9" stroke="#7C92E3" stroke-width="7"/>
<line x1="358" y1="1136.3" x2="418.5" y2="1136.3" stroke="#7C92E3" stroke-width="7"/>
<line x1="358" y1="1279.5" x2="418.5" y2="1279.5" stroke="#7C92E3" stroke-width="7"/>
<line x1="358" y1="1294.4" x2="418.5" y2="1294.4" stroke="#7C92E3" stroke-width="7"/>
<line x1="358" y1="757.7" x2="418.5" y2="757.7" stroke="#7C92E3" stroke-width="7"/>
<line x1="358" y1="635.9" x2="418.5" y2="635.9" stroke="#7C92E3" stroke-width="7"/>
<line x1="358" y1="850.8" x2="418.5" y2="850.8" stroke="#7C92E3" stroke-width="7"/>
<line x1="358" y1="960.7" x2="418.5" y2="960.7" stroke="#7C92E3" stroke-width="7"/>
<line x1="358" y1="917.8" x2="418.5" y2="917.8" stroke="#7C92E3" stroke-width="7"/>
<line x1="358" y1="994" x2="418.5" y2="994" stroke="#7C92E3" stroke-width="7"/>
<line x1="358" y1="1027.3" x2="418.5" y2="1027.3" stroke="#7C92E3" stroke-width="7"/>
<line x1="358" y1="1063" x2="418.5" y2="1063" stroke="#7C92E3" stroke-width="7"/>
<line x1="358" y1="1099.4" x2="418.5" y2="1099.4" stroke="#7C92E3" stroke-width="7"/>
<line x1="358" y1="1108.9" x2="418.5" y2="1108.9" stroke="#7C92E3" stroke-width="7"/>
<line x1="358" y1="1199.6" x2="418.5" y2="1199.6" stroke="#7C92E3" stroke-width="7"/>
<line x1="358" y1="1050.4" x2="418.5" y2="1050.4" stroke="#7C92E3" stroke-width="7"/>
<line x1="358" y1="1054.3" x2="418.5" y2="1054.3" stroke="#7C92E3" stroke-width="7"/>
<line x1="358" y1="1070.5" x2="418.5" y2="1070.5" stroke="#7C92E3" stroke-width="7"/>
<line x1="358" y1="1129" x2="418.5" y2="1129" stroke="#7C92E3" stroke-width="7"/>
<line x1="358" y1="1126.3" x2="418.5" y2="1126.3" stroke="#7C92E3" stroke-width="7"/>
<line x1="358" y1="1132.9" x2="418.5" y2="1132.9" stroke="#7C92E3" stroke-width="7"/>
<line x1="358" y1="1170.5" x2="418.5" y2="1170.5" stroke="#7C92E3" stroke-width="7"/>
<line x1="358" y1="1206.7" x2="418.5" y2="1206.7" stroke="#7C92E3" stroke-width="7"/>
<line x1="358" y1="914.2" x2="418.5" y2="914.2" stroke="#7C92E3" stroke-width="7"/>
<line x1="358" y1="956.8" x2="418.5" y2="956.8" stroke="#7C92E3" stroke-width="7"/>
<line x1="358" y1="1304.4" x2="418.5" y2="1304.4" stroke="#7C92E3" stroke-width="7"/>
<line x1="358" y1="1362" x2="418.5" y2="1362" stroke="#7C92E3" stroke-width="7"/>
<line x1="358" y1="1370.7" x2="418.5" y2="1370.7" stroke="#7C92E3" stroke-width="7"/>
<line x1="358" y1="811.2" x2="418.5" y2="811.2" stroke="#7C92E3" stroke-width="7"/>
<line x1="358" y1="789.2" x2="418.5" y2="789.2" stroke="#7C92E3" stroke-width="7"/>
<line x1="358" y1="866.9" x2="418.5" y2="866.9" stroke="#7C92E3" stroke-width="7"/>
<line x1="358" y1="850.7" x2="418.5" y2="850.7" stroke="#7C92E3" stroke-width="7"/>
<line x1="358" y1="874.8" x2="418.5" y2="874.8" stroke="#7C92E3" stroke-width="7"/>
<line x1="358" y1="934.9" x2="418.5" y2="934.9" stroke="#7C92E3" stroke-width="7"/>
<line x1="358" y1="1006.9" x2="418.5" y2="1006.9" stroke="#7C92E3" stroke-width="7"/>
<line x1="358" y1="1071.7" x2="418.5" y2="1071.7" stroke="#7C92E3" stroke-width="7"/>
<line x1="358" y1="1124.9" x2="418.5" y2="1124.9" stroke="#7C92E3" stroke-width="7"/>
<line x1="358" y1="904.6" x2="418.5" y2="904.6" stroke="#7C92E3" stroke-width="7"/>
<line x1="358" y1="1059.4" x2="418.5" y2="1059.4" stroke="#7C92E3" stroke-width="7"/>
<line x1="358" y1="1101.7" x2="418.5" y2="1101.7" stroke="#7C92E3" stroke-width="7"/>
<line x1="335" y1="504.8" x2="358" y2="504.8" stroke="#333" stroke-width="8"/>
<line x1="335" y1="818.8" x2="358" y2="818.8" stroke="#333" stroke-width="8"/>
<line x1="335" y1="1132.8" x2="358" y2="1132.8" stroke="#333" stroke-width="8"/>
<line x1="335" y1="1446.8" x2="358" y2="1446.8" stroke="#333" stroke-width="8"/>
<line x1="335" y1="1760.8" x2="358" y2="1760.8" stroke="#333" stroke-width="8"/>
<line x1="426" y1="1957" x2="426" y2="1980" stroke="#333" stroke-width="8"/>
<line x1="878.5" y1="1957" x2="878.5" y2="1980" stroke="#333" stroke-width="8"/>
<line x1="1331" y1="1957" x2="1331" y2="1980" stroke="#333" stroke-width="8"/>
<line x1="1783.5" y1="1957" x2="1783.5" y2="1980" stroke="#333" stroke-width="8"/>
<line x1="2236" y1="1957" x2="2236" y2="1980" stroke="#333" stroke-width="8"/>
<path d="M358 489 V1957 H2352" fill="none" stroke="#000" stroke-width="8" stroke-linecap="square" stroke-linejoin="miter"/>
<text font-family="'Liberation Serif','DejaVu Serif',serif" fill="#4D4D4D" stroke="#4D4D4D" stroke-width="0.5" stroke-linejoin="round"><tspan x="219.3" y="532.8" font-size="59.8" textLength="31.7" lengthAdjust="spacingAndGlyphs">1</tspan><tspan x="250.9" y="532.8" font-size="77.5" textLength="19.9" lengthAdjust="spacingAndGlyphs">.</tspan><tspan x="270.9" y="532.8" font-size="59.8" textLength="45.3" lengthAdjust="spacingAndGlyphs">0</tspan></text>
<text font-family="'Liberation Serif','DejaVu Serif',serif" fill="#4D4D4D" stroke="#4D4D4D" stroke-width="0.5" stroke-linejoin="round"><tspan x="213.7" y="846.8" font-size="59.8" textLength="44.6" lengthAdjust="spacingAndGlyphs">0</tspan><tspan x="258.3" y="846.8" font-size="77.5" textLength="19.6" lengthAdjust="spacingAndGlyphs">.</tspan><tspan x="277.9" y="858.5" font-size="76.6" textLength="38.4" lengthAdjust="spacingAndGlyphs">5</tspan></text>
<text font-family="'Liberation Serif','DejaVu Serif',serif" fill="#4D4D4D" stroke="#4D4D4D" stroke-width="0.5" stroke-linejoin="round"><tspan x="207.6" y="1160.8" font-size="59.8" textLength="44.6" lengthAdjust="spacingAndGlyphs">0</tspan><tspan x="252.1" y="1160.8" font-size="77.5" textLength="19.6" lengthAdjust="spacingAndGlyphs">.</tspan><tspan x="271.8" y="1160.8" font-size="59.8" textLength="44.6" lengthAdjust="spacingAndGlyphs">0</tspan></text>
<text font-family="'Liberation Serif','DejaVu Serif',serif" fill="#4D4D4D" stroke="#4D4D4D" stroke-width="0.5" stroke-linejoin="round"><tspan x="185.2" y="1474.8" font-size="77.5" textLength="27.5" lengthAdjust="spacingAndGlyphs">-</tspan><tspan x="212.7" y="1474.8" font-size="59.8" textLength="45.1" lengthAdjust="spacingAndGlyphs">0</tspan><tspan x="257.7" y="1474.8" font-size="77.5" textLength="19.8" lengthAdjust="spacingAndGlyphs">.</tspan><tspan x="277.5" y="1486.5" font-size="76.6" textLength="38.8" lengthAdjust="spacingAndGlyphs">5</tspan></text>
<text font-family="'Liberation Serif','DejaVu Serif',serif" fill="#4D4D4D" stroke="#4D4D4D" stroke-width="0.5" stroke-linejoin="round"><tspan x="193" y="1788.8" font-size="77.5" textLength="27.3" lengthAdjust="spacingAndGlyphs">-</tspan><tspan x="220.3" y="1788.8" font-size="59.8" textLength="31.3" lengthAdjust="spacingAndGlyphs">1</tspan><tspan x="251.6" y="1788.8" font-size="77.5" textLength="19.7" lengthAdjust="spacingAndGlyphs">.</tspan><tspan x="271.3" y="1788.8" font-size="59.8" textLength="44.8" lengthAdjust="spacingAndGlyphs">0</tspan></text>
<text font-family="'Liberation Serif','DejaVu Serif',serif" fill="#4D4D4D" stroke="#4D4D4D" stroke-width="0.5" stroke-linejoin="round"><tspan x="389.9" y="2051.8" font-size="77.5" textLength="29" lengthAdjust="spacingAndGlyphs">-</tspan><tspan x="418.9" y="2051.8" font-size="59.8" textLength="43.3" lengthAdjust="spacingAndGlyphs">2</tspan></text>
<text font-family="'Liberation Serif','DejaVu Serif',serif" fill="#4D4D4D" stroke="#4D4D4D" stroke-width="0.5" stroke-linejoin="round"><tspan x="847.8" y="2051.8" font-size="77.5" textLength="29.2" lengthAdjust="spacingAndGlyphs">-</tspan><tspan x="877" y="2051.8" font-size="59.8" textLength="33.5" lengthAdjust="spacingAndGlyphs">1</tspan></text>
<text font-family="'Liberation Serif','DejaVu Serif',serif" fill="#4D4D4D" stroke="#4D4D4D" stroke-width="0.5" stroke-linejoin="round"><tspan x="1308.8" y="2051.8" font-size="59.8" textLength="45.5" lengthAdjust="spacingAndGlyphs">0</tspan></text>
<text font-family="'Liberation Serif','DejaVu Serif',serif" fill="#4D4D4D" stroke="#4D4D4D" stroke-width="0.5" stroke-linejoin="round"><tspan x="1764.9" y="2051.8" font-size="59.8" textLength="37" lengthAdjust="spacingAndGlyphs">1</tspan></text>
<text font-family="'Liberation Serif','DejaVu Serif',serif" fill="#4D4D4D" stroke="#4D4D4D" stroke-width="0.5" stroke-linejoin="round"><tspan x="2215.3" y="2051.8" font-size="59.8" textLength="44.6" lengthAdjust="spacingAndGlyphs">2</tspan></text>
<text font-family="'Liberation Serif','DejaVu Serif',serif" fill="#000" stroke="#000" stroke-width="1.3" stroke-linejoin="round"><tspan x="1197.3" y="2185.7" font-size="97.7" textLength="278.6" lengthAdjust="spacingAndGlyphs">NMDS</tspan><tspan x="1474.8" y="2200.9" font-size="64.6" textLength="41.2" lengthAdjust="spacingAndGlyphs" font-family="'DejaVu Sans','Liberation Sans',sans-serif">1</tspan></text>
<text font-family="'Liberation Serif','DejaVu Serif',serif" fill="#000" transform="translate(116.4 1378.2) rotate(-90)" stroke="#000" stroke-width="1.3" stroke-linejoin="round"><tspan x="-2.7" y="0" font-size="97.7" textLength="278.6" lengthAdjust="spacingAndGlyphs">NMDS</tspan><tspan x="275.9" y="15.2" font-size="64.6" textLength="40.8" lengthAdjust="spacingAndGlyphs" font-family="'DejaVu Sans','Liberation Sans',sans-serif">2</tspan></text>
<text font-family="'Liberation Serif','DejaVu Serif',serif" fill="#000" stroke="#000" stroke-width="1.3" stroke-linejoin="round"><tspan x="790" y="2330.7" font-size="88" textLength="535" lengthAdjust="spacingAndGlyphs">PERMANOVA</tspan><tspan x="1345.2" y="2330.7" font-size="88" textLength="301" lengthAdjust="spacingAndGlyphs">p-value:</tspan><tspan x="1666.3" y="2330.7" font-size="67.9" textLength="51.2" lengthAdjust="spacingAndGlyphs">0</tspan><tspan x="1717.5" y="2330.7" font-size="88" textLength="22.5" lengthAdjust="spacingAndGlyphs">.</tspan><tspan x="1740" y="2330.7" font-size="67.9" textLength="51.2" lengthAdjust="spacingAndGlyphs">0</tspan><tspan x="1791.3" y="2330.7" font-size="67.9" textLength="51.2" lengthAdjust="spacingAndGlyphs">0</tspan><tspan x="1842.5" y="2330.7" font-size="67.9" textLength="35.8" lengthAdjust="spacingAndGlyphs">1</tspan><tspan x="1898.5" y="2330.7" font-size="88" textLength="89.9" lengthAdjust="spacingAndGlyphs">(R</tspan><tspan x="1986.3" y="2298.9" font-size="57.5" textLength="36.6" lengthAdjust="spacingAndGlyphs" font-family="'DejaVu Sans','Liberation Sans',sans-serif">2</tspan><tspan x="2044" y="2330.7" font-size="88" textLength="53.7" lengthAdjust="spacingAndGlyphs">=</tspan><tspan x="2117.8" y="2330.7" font-size="67.9" textLength="35.8" lengthAdjust="spacingAndGlyphs">1</tspan><tspan x="2153.6" y="2344" font-size="87.1" textLength="44.1" lengthAdjust="spacingAndGlyphs">5</tspan><tspan x="2197.7" y="2330.7" font-size="88" textLength="22.5" lengthAdjust="spacingAndGlyphs">.</tspan><tspan x="2220.2" y="2330.7" font-size="67.9" textLength="35.8" lengthAdjust="spacingAndGlyphs">1</tspan><tspan x="2256" y="2330.7" font-size="88" textLength="99.5" lengthAdjust="spacingAndGlyphs">%)</tspan></text>
</g>
<g>
<line x1="2758" y1="498" x2="4752" y2="498" stroke="#D9D9D9" stroke-width="4" stroke-dasharray="15.2 6.87"/>
<line x1="2758" y1="823" x2="4752" y2="823" stroke="#D9D9D9" stroke-width="4" stroke-dasharray="15.2 6.87"/>
<line x1="2758" y1="1148" x2="4752" y2="1148" stroke="#D9D9D9" stroke-width="4" stroke-dasharray="15.2 6.87"/>
<line x1="2758" y1="1473" x2="4752" y2="1473" stroke="#D9D9D9" stroke-width="4" stroke-dasharray="15.2 6.87"/>
<line x1="2758" y1="1798" x2="4752" y2="1798" stroke="#D9D9D9" stroke-width="4" stroke-dasharray="15.2 6.87"/>
<line x1="3078.8" y1="1957" x2="3078.8" y2="489" stroke="#D9D9D9" stroke-width="4" stroke-dasharray="15.2 6.87"/>
<line x1="3596.5" y1="1957" x2="3596.5" y2="489" stroke="#D9D9D9" stroke-width="4" stroke-dasharray="15.2 6.87"/>
<line x1="4114.2" y1="1957" x2="4114.2" y2="489" stroke="#D9D9D9" stroke-width="4" stroke-dasharray="15.2 6.87"/>
<line x1="4632" y1="1957" x2="4632" y2="489" stroke="#D9D9D9" stroke-width="4" stroke-dasharray="15.2 6.87"/>
<circle cx="3644.7" cy="855.7" r="22" fill="#9673CB" fill-opacity="0.76"/>
<circle cx="3245.3" cy="986.3" r="22" fill="#9673CB" fill-opacity="0.76"/>
<circle cx="3343.5" cy="933.9" r="22" fill="#9673CB" fill-opacity="0.76"/>
<circle cx="3342.5" cy="965.5" r="22" fill="#9673CB" fill-opacity="0.76"/>
<circle cx="3389.4" cy="1014.9" r="22" fill="#9673CB" fill-opacity="0.76"/>
<circle cx="3339.8" cy="1072.4" r="22" fill="#9673CB" fill-opacity="0.76"/>
<circle cx="3407.8" cy="1093.5" r="22" fill="#9673CB" fill-opacity="0.76"/>
<circle cx="3441.9" cy="1135.1" r="22" fill="#9673CB" fill-opacity="0.76"/>
<circle cx="3475.5" cy="1179.2" r="22" fill="#9673CB" fill-opacity="0.76"/>
<circle cx="3563" cy="1013.4" r="22" fill="#9673CB" fill-opacity="0.76"/>
<circle cx="3740.4" cy="1018.6" r="22" fill="#9673CB" fill-opacity="0.76"/>
<circle cx="3818" cy="987.6" r="22" fill="#9673CB" fill-opacity="0.76"/>
<circle cx="3756.5" cy="1112.4" r="22" fill="#9673CB" fill-opacity="0.76"/>
<circle cx="3867.4" cy="1153.1" r="22" fill="#9673CB" fill-opacity="0.76"/>
<circle cx="3650.3" cy="1191" r="22" fill="#9673CB" fill-opacity="0.76"/>
<circle cx="3440.7" cy="1275" r="22" fill="#9673CB" fill-opacity="0.76"/>
<circle cx="3880.4" cy="1537.7" r="22" fill="#9673CB" fill-opacity="0.76"/>
<circle cx="3778.9" cy="1808.9" r="22" fill="#9673CB" fill-opacity="0.76"/>
<circle cx="3547.7" cy="1539.2" r="22" fill="#C8633D" fill-opacity="0.76"/>
<circle cx="3850" cy="1563.2" r="22" fill="#C8633D" fill-opacity="0.76"/>
<circle cx="3822" cy="1730.4" r="22" fill="#E48342" fill-opacity="0.76"/>
<circle cx="3262.7" cy="1383.4" r="22" fill="#FDCF75" fill-opacity="0.76"/>
<circle cx="3380.1" cy="1427.8" r="22" fill="#FDCF75" fill-opacity="0.76"/>
<circle cx="3444.1" cy="1575.9" r="22" fill="#FDCF75" fill-opacity="0.76"/>
<circle cx="3373.6" cy="1627.3" r="22" fill="#FDCF75" fill-opacity="0.76"/>
<circle cx="3813.4" cy="1474" r="22" fill="#FDCF75" fill-opacity="0.76"/>
<circle cx="3717.4" cy="1587.1" r="22" fill="#FDCF75" fill-opacity="0.76"/>
<circle cx="3599.4" cy="1602.2" r="22" fill="#FDCF75" fill-opacity="0.76"/>
<circle cx="3321.4" cy="1849" r="22" fill="#FDCF75" fill-opacity="0.76"/>
<circle cx="3677.6" cy="1688.8" r="22" fill="#FDCF75" fill-opacity="0.76"/>
<circle cx="3648.1" cy="1724.8" r="22" fill="#FDCF75" fill-opacity="0.76"/>
<circle cx="3241.9" cy="1497.3" r="22" fill="#FFA728" fill-opacity="0.76"/>
<circle cx="3846" cy="1590.8" r="22" fill="#FFA728" fill-opacity="0.76"/>
<circle cx="3739.4" cy="1690.3" r="22" fill="#FFA728" fill-opacity="0.76"/>
<circle cx="3784.5" cy="1675.7" r="22" fill="#FFA728" fill-opacity="0.76"/>
<circle cx="3519.9" cy="1570.9" r="22" fill="#FEBB45" fill-opacity="0.76"/>
<circle cx="3576.1" cy="1446.4" r="22" fill="#FEBB45" fill-opacity="0.76"/>
<circle cx="3647.5" cy="1467.2" r="22" fill="#FEBB45" fill-opacity="0.76"/>
<circle cx="4081.4" cy="1649" r="22" fill="#FEBB45" fill-opacity="0.76"/>
<circle cx="3560.4" cy="1373.7" r="22" fill="#FDCF75" fill-opacity="0.76"/>
<circle cx="4215.5" cy="1890.3" r="22" fill="#FDCF75" fill-opacity="0.76"/>
<circle cx="4047.8" cy="1435.5" r="22" fill="#E48342" fill-opacity="0.76"/>
<circle cx="3993.8" cy="1547.3" r="22" fill="#E48342" fill-opacity="0.76"/>
<circle cx="3552.2" cy="956.2" r="22" fill="#5D9EF1" fill-opacity="0.76"/>
<circle cx="3028.6" cy="880" r="22" fill="#9673CB" fill-opacity="0.76"/>
<circle cx="3584.5" cy="710.7" r="22" fill="#9673CB" fill-opacity="0.76"/>
<circle cx="3679.2" cy="738.4" r="22" fill="#9673CB" fill-opacity="0.76"/>
<circle cx="3019.3" cy="928.6" r="22" fill="#9673CB" fill-opacity="0.76"/>
<circle cx="3232" cy="945.7" r="22" fill="#9673CB" fill-opacity="0.76"/>
<circle cx="3291.9" cy="966.5" r="22" fill="#9673CB" fill-opacity="0.76"/>
<circle cx="3454.3" cy="961.8" r="22" fill="#9673CB" fill-opacity="0.76"/>
<circle cx="3092.5" cy="1125.2" r="22" fill="#9673CB" fill-opacity="0.76"/>
<circle cx="3789.4" cy="930.7" r="22" fill="#9673CB" fill-opacity="0.76"/>
<circle cx="3660.9" cy="1236" r="22" fill="#9673CB" fill-opacity="0.76"/>
<circle cx="3266.1" cy="556.1" r="22" fill="#5D9EF1" fill-opacity="0.76"/>
<circle cx="3170.8" cy="764.8" r="22" fill="#5D9EF1" fill-opacity="0.76"/>
<circle cx="3449.7" cy="789.3" r="22" fill="#5D9EF1" fill-opacity="0.76"/>
<circle cx="3505" cy="785" r="22" fill="#5D9EF1" fill-opacity="0.76"/>
<circle cx="3638.8" cy="751.7" r="22" fill="#5D9EF1" fill-opacity="0.76"/>
<circle cx="3909.3" cy="698.3" r="22" fill="#5D9EF1" fill-opacity="0.76"/>
<circle cx="3683.7" cy="893.2" r="22" fill="#5D9EF1" fill-opacity="0.76"/>
<circle cx="4277" cy="772.9" r="22" fill="#5D9EF1" fill-opacity="0.76"/>
<circle cx="3389.4" cy="927" r="22" fill="#5D9EF1" fill-opacity="0.76"/>
<circle cx="3120.8" cy="1058.7" r="22" fill="#5D9EF1" fill-opacity="0.76"/>
<circle cx="2848.4" cy="1085.1" r="22" fill="#5D9EF1" fill-opacity="0.76"/>
<circle cx="2981.7" cy="1119.3" r="22" fill="#5D9EF1" fill-opacity="0.76"/>
<circle cx="3109.9" cy="1122.7" r="22" fill="#5D9EF1" fill-opacity="0.76"/>
<circle cx="3116.8" cy="1113.4" r="22" fill="#5D9EF1" fill-opacity="0.76"/>
<circle cx="3109.6" cy="1182.9" r="22" fill="#5D9EF1" fill-opacity="0.76"/>
<circle cx="3739.8" cy="915.8" r="22" fill="#5D9EF1" fill-opacity="0.76"/>
<circle cx="3556.8" cy="1032.9" r="22" fill="#5D9EF1" fill-opacity="0.76"/>
<circle cx="3701.9" cy="988.2" r="22" fill="#5D9EF1" fill-opacity="0.76"/>
<circle cx="3726.1" cy="995" r="22" fill="#5D9EF1" fill-opacity="0.76"/>
<circle cx="3693.2" cy="1020.2" r="22" fill="#5D9EF1" fill-opacity="0.76"/>
<circle cx="4261.5" cy="937" r="22" fill="#5D9EF1" fill-opacity="0.76"/>
<circle cx="4113.7" cy="1151.6" r="22" fill="#5D9EF1" fill-opacity="0.76"/>
<circle cx="3506.5" cy="1299.8" r="22" fill="#5D9EF1" fill-opacity="0.76"/>
<circle cx="3067.7" cy="1315.3" r="22" fill="#5D9EF1" fill-opacity="0.76"/>
<circle cx="3724.8" cy="759.8" r="22" fill="#758CE2" fill-opacity="0.76"/>
<circle cx="4233.3" cy="633.7" r="22" fill="#758CE2" fill-opacity="0.76"/>
<circle cx="3867.1" cy="856.1" r="22" fill="#758CE2" fill-opacity="0.76"/>
<circle cx="3280.4" cy="969.9" r="22" fill="#758CE2" fill-opacity="0.76"/>
<circle cx="3440" cy="925.5" r="22" fill="#758CE2" fill-opacity="0.76"/>
<circle cx="3327.6" cy="1004.3" r="22" fill="#758CE2" fill-opacity="0.76"/>
<circle cx="3421.7" cy="1038.8" r="22" fill="#758CE2" fill-opacity="0.76"/>
<circle cx="3436" cy="1075.8" r="22" fill="#758CE2" fill-opacity="0.76"/>
<circle cx="3367.1" cy="1113.4" r="22" fill="#758CE2" fill-opacity="0.76"/>
<circle cx="3535.7" cy="1123.3" r="22" fill="#758CE2" fill-opacity="0.76"/>
<circle cx="3395.3" cy="1217.1" r="22" fill="#758CE2" fill-opacity="0.76"/>
<circle cx="3073.6" cy="1062.7" r="22" fill="#758CE2" fill-opacity="0.76"/>
<circle cx="3183.2" cy="1066.8" r="22" fill="#758CE2" fill-opacity="0.76"/>
<circle cx="3172.4" cy="1083.5" r="22" fill="#758CE2" fill-opacity="0.76"/>
<circle cx="3242.9" cy="1144.1" r="22" fill="#758CE2" fill-opacity="0.76"/>
<circle cx="3277" cy="1141.3" r="22" fill="#758CE2" fill-opacity="0.76"/>
<circle cx="3279.5" cy="1148.1" r="22" fill="#758CE2" fill-opacity="0.76"/>
<circle cx="3273" cy="1187" r="22" fill="#758CE2" fill-opacity="0.76"/>
<circle cx="3163.7" cy="1224.5" r="22" fill="#758CE2" fill-opacity="0.76"/>
<circle cx="3560.2" cy="921.7" r="22" fill="#758CE2" fill-opacity="0.76"/>
<circle cx="3553.4" cy="965.8" r="22" fill="#758CE2" fill-opacity="0.76"/>
<circle cx="3159.9" cy="1325.6" r="22" fill="#758CE2" fill-opacity="0.76"/>
<circle cx="3323.9" cy="1385.2" r="22" fill="#758CE2" fill-opacity="0.76"/>
<circle cx="3990.4" cy="1394.2" r="22" fill="#758CE2" fill-opacity="0.76"/>
<circle cx="3837.3" cy="815.1" r="22" fill="#75C896" fill-opacity="0.76"/>
<circle cx="4134.2" cy="792.4" r="22" fill="#75C896" fill-opacity="0.76"/>
<circle cx="4080.2" cy="872.8" r="22" fill="#75C896" fill-opacity="0.76"/>
<circle cx="4524.2" cy="856" r="22" fill="#75C896" fill-opacity="0.76"/>
<circle cx="4448.4" cy="881" r="22" fill="#75C896" fill-opacity="0.76"/>
<circle cx="3682.6" cy="943.2" r="22" fill="#75C896" fill-opacity="0.76"/>
<circle cx="4192.9" cy="1017.7" r="22" fill="#75C896" fill-opacity="0.76"/>
<circle cx="4165" cy="1084.8" r="22" fill="#75C896" fill-opacity="0.76"/>
<circle cx="3973.9" cy="1139.8" r="22" fill="#75C896" fill-opacity="0.76"/>
<circle cx="4661.5" cy="911.8" r="22" fill="#75C896" fill-opacity="0.76"/>
<circle cx="4297.2" cy="1072" r="22" fill="#75C896" fill-opacity="0.76"/>
<circle cx="4566.1" cy="1115.8" r="22" fill="#75C896" fill-opacity="0.76"/>
<line x1="3644.7" y1="1957" x2="3644.7" y2="1912.7" stroke="#9B7ACE" stroke-width="7"/>
<line x1="3245.3" y1="1957" x2="3245.3" y2="1912.7" stroke="#9B7ACE" stroke-width="7"/>
<line x1="3343.5" y1="1957" x2="3343.5" y2="1912.7" stroke="#9B7ACE" stroke-width="7"/>
<line x1="3342.5" y1="1957" x2="3342.5" y2="1912.7" stroke="#9B7ACE" stroke-width="7"/>
<line x1="3389.4" y1="1957" x2="3389.4" y2="1912.7" stroke="#9B7ACE" stroke-width="7"/>
<line x1="3339.8" y1="1957" x2="3339.8" y2="1912.7" stroke="#9B7ACE" stroke-width="7"/>
<line x1="3407.8" y1="1957" x2="3407.8" y2="1912.7" stroke="#9B7ACE" stroke-width="7"/>
<line x1="3441.9" y1="1957" x2="3441.9" y2="1912.7" stroke="#9B7ACE" stroke-width="7"/>
<line x1="3475.5" y1="1957" x2="3475.5" y2="1912.7" stroke="#9B7ACE" stroke-width="7"/>
<line x1="3563" y1="1957" x2="3563" y2="1912.7" stroke="#9B7ACE" stroke-width="7"/>
<line x1="3740.4" y1="1957" x2="3740.4" y2="1912.7" stroke="#9B7ACE" stroke-width="7"/>
<line x1="3818" y1="1957" x2="3818" y2="1912.7" stroke="#9B7ACE" stroke-width="7"/>
<line x1="3756.5" y1="1957" x2="3756.5" y2="1912.7" stroke="#9B7ACE" stroke-width="7"/>
<line x1="3867.4" y1="1957" x2="3867.4" y2="1912.7" stroke="#9B7ACE" stroke-width="7"/>
<line x1="3650.3" y1="1957" x2="3650.3" y2="1912.7" stroke="#9B7ACE" stroke-width="7"/>
<line x1="3440.7" y1="1957" x2="3440.7" y2="1912.7" stroke="#9B7ACE" stroke-width="7"/>
<line x1="3880.4" y1="1957" x2="3880.4" y2="1912.7" stroke="#9B7ACE" stroke-width="7"/>
<line x1="3778.9" y1="1957" x2="3778.9" y2="1912.7" stroke="#9B7ACE" stroke-width="7"/>
<line x1="3547.7" y1="1957" x2="3547.7" y2="1912.7" stroke="#CB6B47" stroke-width="7"/>
<line x1="3850" y1="1957" x2="3850" y2="1912.7" stroke="#CB6B47" stroke-width="7"/>
<line x1="3822" y1="1957" x2="3822" y2="1912.7" stroke="#E5894B" stroke-width="7"/>
<line x1="3262.7" y1="1957" x2="3262.7" y2="1912.7" stroke="#FDD17C" stroke-width="7"/>
<line x1="3380.1" y1="1957" x2="3380.1" y2="1912.7" stroke="#FDD17C" stroke-width="7"/>
<line x1="3444.1" y1="1957" x2="3444.1" y2="1912.7" stroke="#FDD17C" stroke-width="7"/>
<line x1="3373.6" y1="1957" x2="3373.6" y2="1912.7" stroke="#FDD17C" stroke-width="7"/>
<line x1="3813.4" y1="1957" x2="3813.4" y2="1912.7" stroke="#FDD17C" stroke-width="7"/>
<line x1="3717.4" y1="1957" x2="3717.4" y2="1912.7" stroke="#FDD17C" stroke-width="7"/>
<line x1="3599.4" y1="1957" x2="3599.4" y2="1912.7" stroke="#FDD17C" stroke-width="7"/>
<line x1="3321.4" y1="1957" x2="3321.4" y2="1912.7" stroke="#FDD17C" stroke-width="7"/>
<line x1="3677.6" y1="1957" x2="3677.6" y2="1912.7" stroke="#FDD17C" stroke-width="7"/>
<line x1="3648.1" y1="1957" x2="3648.1" y2="1912.7" stroke="#FDD17C" stroke-width="7"/>
<line x1="3241.9" y1="1957" x2="3241.9" y2="1912.7" stroke="#FFAB33" stroke-width="7"/>
<line x1="3846" y1="1957" x2="3846" y2="1912.7" stroke="#FFAB33" stroke-width="7"/>
<line x1="3739.4" y1="1957" x2="3739.4" y2="1912.7" stroke="#FFAB33" stroke-width="7"/>
<line x1="3784.5" y1="1957" x2="3784.5" y2="1912.7" stroke="#FFAB33" stroke-width="7"/>
<line x1="3519.9" y1="1957" x2="3519.9" y2="1912.7" stroke="#FEBE4E" stroke-width="7"/>
<line x1="3576.1" y1="1957" x2="3576.1" y2="1912.7" stroke="#FEBE4E" stroke-width="7"/>
<line x1="3647.5" y1="1957" x2="3647.5" y2="1912.7" stroke="#FEBE4E" stroke-width="7"/>
<line x1="4081.4" y1="1957" x2="4081.4" y2="1912.7" stroke="#FEBE4E" stroke-width="7"/>
<line x1="3560.4" y1="1957" x2="3560.4" y2="1912.7" stroke="#FDD17C" stroke-width="7"/>
<line x1="4215.5" y1="1957" x2="4215.5" y2="1912.7" stroke="#FDD17C" stroke-width="7"/>
<line x1="4047.8" y1="1957" x2="4047.8" y2="1912.7" stroke="#E5894B" stroke-width="7"/>
<line x1="3993.8" y1="1957" x2="3993.8" y2="1912.7" stroke="#E5894B" stroke-width="7"/>
<line x1="3552.2" y1="1957" x2="3552.2" y2="1912.7" stroke="#65A3F2" stroke-width="7"/>
<line x1="3028.6" y1="1957" x2="3028.6" y2="1912.7" stroke="#9B7ACE" stroke-width="7"/>
<line x1="3584.5" y1="1957" x2="3584.5" y2="1912.7" stroke="#9B7ACE" stroke-width="7"/>
<line x1="3679.2" y1="1957" x2="3679.2" y2="1912.7" stroke="#9B7ACE" stroke-width="7"/>
<line x1="3019.3" y1="1957" x2="3019.3" y2="1912.7" stroke="#9B7ACE" stroke-width="7"/>
<line x1="3232" y1="1957" x2="3232" y2="1912.7" stroke="#9B7ACE" stroke-width="7"/>
<line x1="3291.9" y1="1957" x2="3291.9" y2="1912.7" stroke="#9B7ACE" stroke-width="7"/>
<line x1="3454.3" y1="1957" x2="3454.3" y2="1912.7" stroke="#9B7ACE" stroke-width="7"/>
<line x1="3092.5" y1="1957" x2="3092.5" y2="1912.7" stroke="#9B7ACE" stroke-width="7"/>
<line x1="3789.4" y1="1957" x2="3789.4" y2="1912.7" stroke="#9B7ACE" stroke-width="7"/>
<line x1="3660.9" y1="1957" x2="3660.9" y2="1912.7" stroke="#9B7ACE" stroke-width="7"/>
<line x1="3266.1" y1="1957" x2="3266.1" y2="1912.7" stroke="#65A3F2" stroke-width="7"/>
<line x1="3170.8" y1="1957" x2="3170.8" y2="1912.7" stroke="#65A3F2" stroke-width="7"/>
<line x1="3449.7" y1="1957" x2="3449.7" y2="1912.7" stroke="#65A3F2" stroke-width="7"/>
<line x1="3505" y1="1957" x2="3505" y2="1912.7" stroke="#65A3F2" stroke-width="7"/>
<line x1="3638.8" y1="1957" x2="3638.8" y2="1912.7" stroke="#65A3F2" stroke-width="7"/>
<line x1="3909.3" y1="1957" x2="3909.3" y2="1912.7" stroke="#65A3F2" stroke-width="7"/>
<line x1="3683.7" y1="1957" x2="3683.7" y2="1912.7" stroke="#65A3F2" stroke-width="7"/>
<line x1="4277" y1="1957" x2="4277" y2="1912.7" stroke="#65A3F2" stroke-width="7"/>
<line x1="3389.4" y1="1957" x2="3389.4" y2="1912.7" stroke="#65A3F2" stroke-width="7"/>
<line x1="3120.8" y1="1957" x2="3120.8" y2="1912.7" stroke="#65A3F2" stroke-width="7"/>
<line x1="2848.4" y1="1957" x2="2848.4" y2="1912.7" stroke="#65A3F2" stroke-width="7"/>
<line x1="2981.7" y1="1957" x2="2981.7" y2="1912.7" stroke="#65A3F2" stroke-width="7"/>
<line x1="3109.9" y1="1957" x2="3109.9" y2="1912.7" stroke="#65A3F2" stroke-width="7"/>
<line x1="3116.8" y1="1957" x2="3116.8" y2="1912.7" stroke="#65A3F2" stroke-width="7"/>
<line x1="3109.6" y1="1957" x2="3109.6" y2="1912.7" stroke="#65A3F2" stroke-width="7"/>
<line x1="3739.8" y1="1957" x2="3739.8" y2="1912.7" stroke="#65A3F2" stroke-width="7"/>
<line x1="3556.8" y1="1957" x2="3556.8" y2="1912.7" stroke="#65A3F2" stroke-width="7"/>
<line x1="3701.9" y1="1957" x2="3701.9" y2="1912.7" stroke="#65A3F2" stroke-width="7"/>
<line x1="3726.1" y1="1957" x2="3726.1" y2="1912.7" stroke="#65A3F2" stroke-width="7"/>
<line x1="3693.2" y1="1957" x2="3693.2" y2="1912.7" stroke="#65A3F2" stroke-width="7"/>
<line x1="4261.5" y1="1957" x2="4261.5" y2="1912.7" stroke="#65A3F2" stroke-width="7"/>
<line x1="4113.7" y1="1957" x2="4113.7" y2="1912.7" stroke="#65A3F2" stroke-width="7"/>
<line x1="3506.5" y1="1957" x2="3506.5" y2="1912.7" stroke="#65A3F2" stroke-width="7"/>
<line x1="3067.7" y1="1957" x2="3067.7" y2="1912.7" stroke="#65A3F2" stroke-width="7"/>
<line x1="3724.8" y1="1957" x2="3724.8" y2="1912.7" stroke="#7C92E3" stroke-width="7"/>
<line x1="4233.3" y1="1957" x2="4233.3" y2="1912.7" stroke="#7C92E3" stroke-width="7"/>
<line x1="3867.1" y1="1957" x2="3867.1" y2="1912.7" stroke="#7C92E3" stroke-width="7"/>
<line x1="3280.4" y1="1957" x2="3280.4" y2="1912.7" stroke="#7C92E3" stroke-width="7"/>
<line x1="3440" y1="1957" x2="3440" y2="1912.7" stroke="#7C92E3" stroke-width="7"/>
<line x1="3327.6" y1="1957" x2="3327.6" y2="1912.7" stroke="#7C92E3" stroke-width="7"/>
<line x1="3421.7" y1="1957" x2="3421.7" y2="1912.7" stroke="#7C92E3" stroke-width="7"/>
<line x1="3436" y1="1957" x2="3436" y2="1912.7" stroke="#7C92E3" stroke-width="7"/>
<line x1="3367.1" y1="1957" x2="3367.1" y2="1912.7" stroke="#7C92E3" stroke-width="7"/>
<line x1="3535.7" y1="1957" x2="3535.7" y2="1912.7" stroke="#7C92E3" stroke-width="7"/>
<line x1="3395.3" y1="1957" x2="3395.3" y2="1912.7" stroke="#7C92E3" stroke-width="7"/>
<line x1="3073.6" y1="1957" x2="3073.6" y2="1912.7" stroke="#7C92E3" stroke-width="7"/>
<line x1="3183.2" y1="1957" x2="3183.2" y2="1912.7" stroke="#7C92E3" stroke-width="7"/>
<line x1="3172.4" y1="1957" x2="3172.4" y2="1912.7" stroke="#7C92E3" stroke-width="7"/>
<line x1="3242.9" y1="1957" x2="3242.9" y2="1912.7" stroke="#7C92E3" stroke-width="7"/>
<line x1="3277" y1="1957" x2="3277" y2="1912.7" stroke="#7C92E3" stroke-width="7"/>
<line x1="3279.5" y1="1957" x2="3279.5" y2="1912.7" stroke="#7C92E3" stroke-width="7"/>
<line x1="3273" y1="1957" x2="3273" y2="1912.7" stroke="#7C92E3" stroke-width="7"/>
<line x1="3163.7" y1="1957" x2="3163.7" y2="1912.7" stroke="#7C92E3" stroke-width="7"/>
<line x1="3560.2" y1="1957" x2="3560.2" y2="1912.7" stroke="#7C92E3" stroke-width="7"/>
<line x1="3553.4" y1="1957" x2="3553.4" y2="1912.7" stroke="#7C92E3" stroke-width="7"/>
<line x1="3159.9" y1="1957" x2="3159.9" y2="1912.7" stroke="#7C92E3" stroke-width="7"/>
<line x1="3323.9" y1="1957" x2="3323.9" y2="1912.7" stroke="#7C92E3" stroke-width="7"/>
<line x1="3990.4" y1="1957" x2="3990.4" y2="1912.7" stroke="#7C92E3" stroke-width="7"/>
<line x1="3837.3" y1="1957" x2="3837.3" y2="1912.7" stroke="#7CCB9B" stroke-width="7"/>
<line x1="4134.2" y1="1957" x2="4134.2" y2="1912.7" stroke="#7CCB9B" stroke-width="7"/>
<line x1="4080.2" y1="1957" x2="4080.2" y2="1912.7" stroke="#7CCB9B" stroke-width="7"/>
<line x1="4524.2" y1="1957" x2="4524.2" y2="1912.7" stroke="#7CCB9B" stroke-width="7"/>
<line x1="4448.4" y1="1957" x2="4448.4" y2="1912.7" stroke="#7CCB9B" stroke-width="7"/>
<line x1="3682.6" y1="1957" x2="3682.6" y2="1912.7" stroke="#7CCB9B" stroke-width="7"/>
<line x1="4192.9" y1="1957" x2="4192.9" y2="1912.7" stroke="#7CCB9B" stroke-width="7"/>
<line x1="4165" y1="1957" x2="4165" y2="1912.7" stroke="#7CCB9B" stroke-width="7"/>
<line x1="3973.9" y1="1957" x2="3973.9" y2="1912.7" stroke="#7CCB9B" stroke-width="7"/>
<line x1="4661.5" y1="1957" x2="4661.5" y2="1912.7" stroke="#7CCB9B" stroke-width="7"/>
<line x1="4297.2" y1="1957" x2="4297.2" y2="1912.7" stroke="#7CCB9B" stroke-width="7"/>
<line x1="4566.1" y1="1957" x2="4566.1" y2="1912.7" stroke="#7CCB9B" stroke-width="7"/>
<line x1="2758" y1="855.7" x2="2818.5" y2="855.7" stroke="#9B7ACE" stroke-width="7"/>
<line x1="2758" y1="986.3" x2="2818.5" y2="986.3" stroke="#9B7ACE" stroke-width="7"/>
<line x1="2758" y1="933.9" x2="2818.5" y2="933.9" stroke="#9B7ACE" stroke-width="7"/>
<line x1="2758" y1="965.5" x2="2818.5" y2="965.5" stroke="#9B7ACE" stroke-width="7"/>
<line x1="2758" y1="1014.9" x2="2818.5" y2="1014.9" stroke="#9B7ACE" stroke-width="7"/>
<line x1="2758" y1="1072.4" x2="2818.5" y2="1072.4" stroke="#9B7ACE" stroke-width="7"/>
<line x1="2758" y1="1093.5" x2="2818.5" y2="1093.5" stroke="#9B7ACE" stroke-width="7"/>
<line x1="2758" y1="1135.1" x2="2818.5" y2="1135.1" stroke="#9B7ACE" stroke-width="7"/>
<line x1="2758" y1="1179.2" x2="2818.5" y2="1179.2" stroke="#9B7ACE" stroke-width="7"/>
<line x1="2758" y1="1013.4" x2="2818.5" y2="1013.4" stroke="#9B7ACE" stroke-width="7"/>
<line x1="2758" y1="1018.6" x2="2818.5" y2="1018.6" stroke="#9B7ACE" stroke-width="7"/>
<line x1="2758" y1="987.6" x2="2818.5" y2="987.6" stroke="#9B7ACE" stroke-width="7"/>
<line x1="2758" y1="1112.4" x2="2818.5" y2="1112.4" stroke="#9B7ACE" stroke-width="7"/>
<line x1="2758" y1="1153.1" x2="2818.5" y2="1153.1" stroke="#9B7ACE" stroke-width="7"/>
<line x1="2758" y1="1191" x2="2818.5" y2="1191" stroke="#9B7ACE" stroke-width="7"/>
<line x1="2758" y1="1275" x2="2818.5" y2="1275" stroke="#9B7ACE" stroke-width="7"/>
<line x1="2758" y1="1537.7" x2="2818.5" y2="1537.7" stroke="#9B7ACE" stroke-width="7"/>
<line x1="2758" y1="1808.9" x2="2818.5" y2="1808.9" stroke="#9B7ACE" stroke-width="7"/>
<line x1="2758" y1="1539.2" x2="2818.5" y2="1539.2" stroke="#CB6B47" stroke-width="7"/>
<line x1="2758" y1="1563.2" x2="2818.5" y2="1563.2" stroke="#CB6B47" stroke-width="7"/>
<line x1="2758" y1="1730.4" x2="2818.5" y2="1730.4" stroke="#E5894B" stroke-width="7"/>
<line x1="2758" y1="1383.4" x2="2818.5" y2="1383.4" stroke="#FDD17C" stroke-width="7"/>
<line x1="2758" y1="1427.8" x2="2818.5" y2="1427.8" stroke="#FDD17C" stroke-width="7"/>
<line x1="2758" y1="1575.9" x2="2818.5" y2="1575.9" stroke="#FDD17C" stroke-width="7"/>
<line x1="2758" y1="1627.3" x2="2818.5" y2="1627.3" stroke="#FDD17C" stroke-width="7"/>
<line x1="2758" y1="1474" x2="2818.5" y2="1474" stroke="#FDD17C" stroke-width="7"/>
<line x1="2758" y1="1587.1" x2="2818.5" y2="1587.1" stroke="#FDD17C" stroke-width="7"/>
<line x1="2758" y1="1602.2" x2="2818.5" y2="1602.2" stroke="#FDD17C" stroke-width="7"/>
<line x1="2758" y1="1849" x2="2818.5" y2="1849" stroke="#FDD17C" stroke-width="7"/>
<line x1="2758" y1="1688.8" x2="2818.5" y2="1688.8" stroke="#FDD17C" stroke-width="7"/>
<line x1="2758" y1="1724.8" x2="2818.5" y2="1724.8" stroke="#FDD17C" stroke-width="7"/>
<line x1="2758" y1="1497.3" x2="2818.5" y2="1497.3" stroke="#FFAB33" stroke-width="7"/>
<line x1="2758" y1="1590.8" x2="2818.5" y2="1590.8" stroke="#FFAB33" stroke-width="7"/>
<line x1="2758" y1="1690.3" x2="2818.5" y2="1690.3" stroke="#FFAB33" stroke-width="7"/>
<line x1="2758" y1="1675.7" x2="2818.5" y2="1675.7" stroke="#FFAB33" stroke-width="7"/>
<line x1="2758" y1="1570.9" x2="2818.5" y2="1570.9" stroke="#FEBE4E" stroke-width="7"/>
<line x1="2758" y1="1446.4" x2="2818.5" y2="1446.4" stroke="#FEBE4E" stroke-width="7"/>
<line x1="2758" y1="1467.2" x2="2818.5" y2="1467.2" stroke="#FEBE4E" stroke-width="7"/>
<line x1="2758" y1="1649" x2="2818.5" y2="1649" stroke="#FEBE4E" stroke-width="7"/>
<line x1="2758" y1="1373.7" x2="2818.5" y2="1373.7" stroke="#FDD17C" stroke-width="7"/>
<line x1="2758" y1="1890.3" x2="2818.5" y2="1890.3" stroke="#FDD17C" stroke-width="7"/>
<line x1="2758" y1="1435.5" x2="2818.5" y2="1435.5" stroke="#E5894B" stroke-width="7"/>
<line x1="2758" y1="1547.3" x2="2818.5" y2="1547.3" stroke="#E5894B" stroke-width="7"/>
<line x1="2758" y1="956.2" x2="2818.5" y2="956.2" stroke="#65A3F2" stroke-width="7"/>
<line x1="2758" y1="880" x2="2818.5" y2="880" stroke="#9B7ACE" stroke-width="7"/>
<line x1="2758" y1="710.7" x2="2818.5" y2="710.7" stroke="#9B7ACE" stroke-width="7"/>
<line x1="2758" y1="738.4" x2="2818.5" y2="738.4" stroke="#9B7ACE" stroke-width="7"/>
<line x1="2758" y1="928.6" x2="2818.5" y2="928.6" stroke="#9B7ACE" stroke-width="7"/>
<line x1="2758" y1="945.7" x2="2818.5" y2="945.7" stroke="#9B7ACE" stroke-width="7"/>
<line x1="2758" y1="966.5" x2="2818.5" y2="966.5" stroke="#9B7ACE" stroke-width="7"/>
<line x1="2758" y1="961.8" x2="2818.5" y2="961.8" stroke="#9B7ACE" stroke-width="7"/>
<line x1="2758" y1="1125.2" x2="2818.5" y2="1125.2" stroke="#9B7ACE" stroke-width="7"/>
<line x1="2758" y1="930.7" x2="2818.5" y2="930.7" stroke="#9B7ACE" stroke-width="7"/>
<line x1="2758" y1="1236" x2="2818.5" y2="1236" stroke="#9B7ACE" stroke-width="7"/>
<line x1="2758" y1="556.1" x2="2818.5" y2="556.1" stroke="#65A3F2" stroke-width="7"/>
<line x1="2758" y1="764.8" x2="2818.5" y2="764.8" stroke="#65A3F2" stroke-width="7"/>
<line x1="2758" y1="789.3" x2="2818.5" y2="789.3" stroke="#65A3F2" stroke-width="7"/>
<line x1="2758" y1="785" x2="2818.5" y2="785" stroke="#65A3F2" stroke-width="7"/>
<line x1="2758" y1="751.7" x2="2818.5" y2="751.7" stroke="#65A3F2" stroke-width="7"/>
<line x1="2758" y1="698.3" x2="2818.5" y2="698.3" stroke="#65A3F2" stroke-width="7"/>
<line x1="2758" y1="893.2" x2="2818.5" y2="893.2" stroke="#65A3F2" stroke-width="7"/>
<line x1="2758" y1="772.9" x2="2818.5" y2="772.9" stroke="#65A3F2" stroke-width="7"/>
<line x1="2758" y1="927" x2="2818.5" y2="927" stroke="#65A3F2" stroke-width="7"/>
<line x1="2758" y1="1058.7" x2="2818.5" y2="1058.7" stroke="#65A3F2" stroke-width="7"/>
<line x1="2758" y1="1085.1" x2="2818.5" y2="1085.1" stroke="#65A3F2" stroke-width="7"/>
<line x1="2758" y1="1119.3" x2="2818.5" y2="1119.3" stroke="#65A3F2" stroke-width="7"/>
<line x1="2758" y1="1122.7" x2="2818.5" y2="1122.7" stroke="#65A3F2" stroke-width="7"/>
<line x1="2758" y1="1113.4" x2="2818.5" y2="1113.4" stroke="#65A3F2" stroke-width="7"/>
<line x1="2758" y1="1182.9" x2="2818.5" y2="1182.9" stroke="#65A3F2" stroke-width="7"/>
<line x1="2758" y1="915.8" x2="2818.5" y2="915.8" stroke="#65A3F2" stroke-width="7"/>
<line x1="2758" y1="1032.9" x2="2818.5" y2="1032.9" stroke="#65A3F2" stroke-width="7"/>
<line x1="2758" y1="988.2" x2="2818.5" y2="988.2" stroke="#65A3F2" stroke-width="7"/>
<line x1="2758" y1="995" x2="2818.5" y2="995" stroke="#65A3F2" stroke-width="7"/>
<line x1="2758" y1="1020.2" x2="2818.5" y2="1020.2" stroke="#65A3F2" stroke-width="7"/>
<line x1="2758" y1="937" x2="2818.5" y2="937" stroke="#65A3F2" stroke-width="7"/>
<line x1="2758" y1="1151.6" x2="2818.5" y2="1151.6" stroke="#65A3F2" stroke-width="7"/>
<line x1="2758" y1="1299.8" x2="2818.5" y2="1299.8" stroke="#65A3F2" stroke-width="7"/>
<line x1="2758" y1="1315.3" x2="2818.5" y2="1315.3" stroke="#65A3F2" stroke-width="7"/>
<line x1="2758" y1="759.8" x2="2818.5" y2="759.8" stroke="#7C92E3" stroke-width="7"/>
<line x1="2758" y1="633.7" x2="2818.5" y2="633.7" stroke="#7C92E3" stroke-width="7"/>
<line x1="2758" y1="856.1" x2="2818.5" y2="856.1" stroke="#7C92E3" stroke-width="7"/>
<line x1="2758" y1="969.9" x2="2818.5" y2="969.9" stroke="#7C92E3" stroke-width="7"/>
<line x1="2758" y1="925.5" x2="2818.5" y2="925.5" stroke="#7C92E3" stroke-width="7"/>
<line x1="2758" y1="1004.3" x2="2818.5" y2="1004.3" stroke="#7C92E3" stroke-width="7"/>
<line x1="2758" y1="1038.8" x2="2818.5" y2="1038.8" stroke="#7C92E3" stroke-width="7"/>
<line x1="2758" y1="1075.8" x2="2818.5" y2="1075.8" stroke="#7C92E3" stroke-width="7"/>
<line x1="2758" y1="1113.4" x2="2818.5" y2="1113.4" stroke="#7C92E3" stroke-width="7"/>
<line x1="2758" y1="1123.3" x2="2818.5" y2="1123.3" stroke="#7C92E3" stroke-width="7"/>
<line x1="2758" y1="1217.1" x2="2818.5" y2="1217.1" stroke="#7C92E3" stroke-width="7"/>
<line x1="2758" y1="1062.7" x2="2818.5" y2="1062.7" stroke="#7C92E3" stroke-width="7"/>
<line x1="2758" y1="1066.8" x2="2818.5" y2="1066.8" stroke="#7C92E3" stroke-width="7"/>
<line x1="2758" y1="1083.5" x2="2818.5" y2="1083.5" stroke="#7C92E3" stroke-width="7"/>
<line x1="2758" y1="1144.1" x2="2818.5" y2="1144.1" stroke="#7C92E3" stroke-width="7"/>
<line x1="2758" y1="1141.3" x2="2818.5" y2="1141.3" stroke="#7C92E3" stroke-width="7"/>
<line x1="2758" y1="1148.1" x2="2818.5" y2="1148.1" stroke="#7C92E3" stroke-width="7"/>
<line x1="2758" y1="1187" x2="2818.5" y2="1187" stroke="#7C92E3" stroke-width="7"/>
<line x1="2758" y1="1224.5" x2="2818.5" y2="1224.5" stroke="#7C92E3" stroke-width="7"/>
<line x1="2758" y1="921.7" x2="2818.5" y2="921.7" stroke="#7C92E3" stroke-width="7"/>
<line x1="2758" y1="965.8" x2="2818.5" y2="965.8" stroke="#7C92E3" stroke-width="7"/>
<line x1="2758" y1="1325.6" x2="2818.5" y2="1325.6" stroke="#7C92E3" stroke-width="7"/>
<line x1="2758" y1="1385.2" x2="2818.5" y2="1385.2" stroke="#7C92E3" stroke-width="7"/>
<line x1="2758" y1="1394.2" x2="2818.5" y2="1394.2" stroke="#7C92E3" stroke-width="7"/>
<line x1="2758" y1="815.1" x2="2818.5" y2="815.1" stroke="#7CCB9B" stroke-width="7"/>
<line x1="2758" y1="792.4" x2="2818.5" y2="792.4" stroke="#7CCB9B" stroke-width="7"/>
<line x1="2758" y1="872.8" x2="2818.5" y2="872.8" stroke="#7CCB9B" stroke-width="7"/>
<line x1="2758" y1="856" x2="2818.5" y2="856" stroke="#7CCB9B" stroke-width="7"/>
<line x1="2758" y1="881" x2="2818.5" y2="881" stroke="#7CCB9B" stroke-width="7"/>
<line x1="2758" y1="943.2" x2="2818.5" y2="943.2" stroke="#7CCB9B" stroke-width="7"/>
<line x1="2758" y1="1017.7" x2="2818.5" y2="1017.7" stroke="#7CCB9B" stroke-width="7"/>
<line x1="2758" y1="1084.8" x2="2818.5" y2="1084.8" stroke="#7CCB9B" stroke-width="7"/>
<line x1="2758" y1="1139.8" x2="2818.5" y2="1139.8" stroke="#7CCB9B" stroke-width="7"/>
<line x1="2758" y1="911.8" x2="2818.5" y2="911.8" stroke="#7CCB9B" stroke-width="7"/>
<line x1="2758" y1="1072" x2="2818.5" y2="1072" stroke="#7CCB9B" stroke-width="7"/>
<line x1="2758" y1="1115.8" x2="2818.5" y2="1115.8" stroke="#7CCB9B" stroke-width="7"/>
<line x1="2735" y1="498" x2="2758" y2="498" stroke="#333" stroke-width="8"/>
<line x1="2735" y1="823" x2="2758" y2="823" stroke="#333" stroke-width="8"/>
<line x1="2735" y1="1148" x2="2758" y2="1148" stroke="#333" stroke-width="8"/>
<line x1="2735" y1="1473" x2="2758" y2="1473" stroke="#333" stroke-width="8"/>
<line x1="2735" y1="1798" x2="2758" y2="1798" stroke="#333" stroke-width="8"/>
<line x1="3078.8" y1="1957" x2="3078.8" y2="1980" stroke="#333" stroke-width="8"/>
<line x1="3596.5" y1="1957" x2="3596.5" y2="1980" stroke="#333" stroke-width="8"/>
<line x1="4114.2" y1="1957" x2="4114.2" y2="1980" stroke="#333" stroke-width="8"/>
<line x1="4632" y1="1957" x2="4632" y2="1980" stroke="#333" stroke-width="8"/>
<path d="M2758 489 V1957 H4752" fill="none" stroke="#000" stroke-width="8" stroke-linecap="square" stroke-linejoin="miter"/>
<text font-family="'Liberation Serif','DejaVu Serif',serif" fill="#4D4D4D" stroke="#4D4D4D" stroke-width="0.5" stroke-linejoin="round"><tspan x="2619.3" y="526" font-size="59.8" textLength="31.7" lengthAdjust="spacingAndGlyphs">1</tspan><tspan x="2650.9" y="526" font-size="77.5" textLength="19.9" lengthAdjust="spacingAndGlyphs">.</tspan><tspan x="2670.9" y="526" font-size="59.8" textLength="45.3" lengthAdjust="spacingAndGlyphs">0</tspan></text>
<text font-family="'Liberation Serif','DejaVu Serif',serif" fill="#4D4D4D" stroke="#4D4D4D" stroke-width="0.5" stroke-linejoin="round"><tspan x="2613.7" y="851" font-size="59.8" textLength="44.6" lengthAdjust="spacingAndGlyphs">0</tspan><tspan x="2658.3" y="851" font-size="77.5" textLength="19.6" lengthAdjust="spacingAndGlyphs">.</tspan><tspan x="2677.9" y="862.7" font-size="76.6" textLength="38.4" lengthAdjust="spacingAndGlyphs">5</tspan></text>
<text font-family="'Liberation Serif','DejaVu Serif',serif" fill="#4D4D4D" stroke="#4D4D4D" stroke-width="0.5" stroke-linejoin="round"><tspan x="2607.6" y="1176" font-size="59.8" textLength="44.6" lengthAdjust="spacingAndGlyphs">0</tspan><tspan x="2652.1" y="1176" font-size="77.5" textLength="19.6" lengthAdjust="spacingAndGlyphs">.</tspan><tspan x="2671.8" y="1176" font-size="59.8" textLength="44.6" lengthAdjust="spacingAndGlyphs">0</tspan></text>
<text font-family="'Liberation Serif','DejaVu Serif',serif" fill="#4D4D4D" stroke="#4D4D4D" stroke-width="0.5" stroke-linejoin="round"><tspan x="2585.2" y="1501" font-size="77.5" textLength="27.5" lengthAdjust="spacingAndGlyphs">-</tspan><tspan x="2612.7" y="1501" font-size="59.8" textLength="45.1" lengthAdjust="spacingAndGlyphs">0</tspan><tspan x="2657.7" y="1501" font-size="77.5" textLength="19.8" lengthAdjust="spacingAndGlyphs">.</tspan><tspan x="2677.5" y="1512.7" font-size="76.6" textLength="38.8" lengthAdjust="spacingAndGlyphs">5</tspan></text>
<text font-family="'Liberation Serif','DejaVu Serif',serif" fill="#4D4D4D" stroke="#4D4D4D" stroke-width="0.5" stroke-linejoin="round"><tspan x="2593" y="1826" font-size="77.5" textLength="27.3" lengthAdjust="spacingAndGlyphs">-</tspan><tspan x="2620.3" y="1826" font-size="59.8" textLength="31.3" lengthAdjust="spacingAndGlyphs">1</tspan><tspan x="2651.6" y="1826" font-size="77.5" textLength="19.7" lengthAdjust="spacingAndGlyphs">.</tspan><tspan x="2671.3" y="1826" font-size="59.8" textLength="44.8" lengthAdjust="spacingAndGlyphs">0</tspan></text>
<text font-family="'Liberation Serif','DejaVu Serif',serif" fill="#4D4D4D" stroke="#4D4D4D" stroke-width="0.5" stroke-linejoin="round"><tspan x="3048.1" y="2051.8" font-size="77.5" textLength="29.2" lengthAdjust="spacingAndGlyphs">-</tspan><tspan x="3077.3" y="2051.8" font-size="59.8" textLength="33.5" lengthAdjust="spacingAndGlyphs">1</tspan></text>
<text font-family="'Liberation Serif','DejaVu Serif',serif" fill="#4D4D4D" stroke="#4D4D4D" stroke-width="0.5" stroke-linejoin="round"><tspan x="3574.3" y="2051.8" font-size="59.8" textLength="45.5" lengthAdjust="spacingAndGlyphs">0</tspan></text>
<text font-family="'Liberation Serif','DejaVu Serif',serif" fill="#4D4D4D" stroke="#4D4D4D" stroke-width="0.5" stroke-linejoin="round"><tspan x="4095.7" y="2051.8" font-size="59.8" textLength="37" lengthAdjust="spacingAndGlyphs">1</tspan></text>
<text font-family="'Liberation Serif','DejaVu Serif',serif" fill="#4D4D4D" stroke="#4D4D4D" stroke-width="0.5" stroke-linejoin="round"><tspan x="4611.3" y="2051.8" font-size="59.8" textLength="44.6" lengthAdjust="spacingAndGlyphs">2</tspan></text>
<text font-family="'Liberation Serif','DejaVu Serif',serif" fill="#000" stroke="#000" stroke-width="1.3" stroke-linejoin="round"><tspan x="3597.3" y="2185.7" font-size="97.7" textLength="278.6" lengthAdjust="spacingAndGlyphs">NMDS</tspan><tspan x="3874.8" y="2200.9" font-size="64.6" textLength="41.2" lengthAdjust="spacingAndGlyphs" font-family="'DejaVu Sans','Liberation Sans',sans-serif">1</tspan></text>
<text font-family="'Liberation Serif','DejaVu Serif',serif" fill="#000" transform="translate(2516.4 1378.2) rotate(-90)" stroke="#000" stroke-width="1.3" stroke-linejoin="round"><tspan x="-2.7" y="0" font-size="97.7" textLength="278.6" lengthAdjust="spacingAndGlyphs">NMDS</tspan><tspan x="275.9" y="15.2" font-size="64.6" textLength="40.8" lengthAdjust="spacingAndGlyphs" font-family="'DejaVu Sans','Liberation Sans',sans-serif">2</tspan></text>
<text font-family="'Liberation Serif','DejaVu Serif',serif" fill="#000" stroke="#000" stroke-width="1.3" stroke-linejoin="round"><tspan x="3174.3" y="2330.7" font-size="88" textLength="535.3" lengthAdjust="spacingAndGlyphs">PERMANOVA</tspan><tspan x="3729.7" y="2330.7" font-size="88" textLength="301.1" lengthAdjust="spacingAndGlyphs">p-value:</tspan><tspan x="4051" y="2330.7" font-size="67.9" textLength="51.3" lengthAdjust="spacingAndGlyphs">0</tspan><tspan x="4102.2" y="2330.7" font-size="88" textLength="22.5" lengthAdjust="spacingAndGlyphs">.</tspan><tspan x="4124.8" y="2330.7" font-size="67.9" textLength="51.3" lengthAdjust="spacingAndGlyphs">0</tspan><tspan x="4176.1" y="2330.7" font-size="67.9" textLength="51.3" lengthAdjust="spacingAndGlyphs">0</tspan><tspan x="4227.3" y="2330.7" font-size="67.9" textLength="35.8" lengthAdjust="spacingAndGlyphs">1</tspan><tspan x="4283.3" y="2330.7" font-size="88" textLength="89.9" lengthAdjust="spacingAndGlyphs">(R</tspan><tspan x="4371.2" y="2298.9" font-size="57.5" textLength="36.7" lengthAdjust="spacingAndGlyphs" font-family="'DejaVu Sans','Liberation Sans',sans-serif">2</tspan><tspan x="4428.9" y="2330.7" font-size="88" textLength="53.7" lengthAdjust="spacingAndGlyphs">=</tspan><tspan x="4502.7" y="2330.7" font-size="67.9" textLength="46.7" lengthAdjust="spacingAndGlyphs">2</tspan><tspan x="4549.4" y="2344" font-size="87.1" textLength="42" lengthAdjust="spacingAndGlyphs">7</tspan><tspan x="4591.4" y="2330.7" font-size="88" textLength="22.5" lengthAdjust="spacingAndGlyphs">.</tspan><tspan x="4614" y="2344" font-size="87.1" textLength="42" lengthAdjust="spacingAndGlyphs">7</tspan><tspan x="4656" y="2330.7" font-size="88" textLength="99.5" lengthAdjust="spacingAndGlyphs">%)</tspan></text>
</g>
<text font-family="'Liberation Serif','DejaVu Serif',serif" fill="#000" font-weight="bold"><tspan x="48.2" y="141.8" font-size="134.4" textLength="62.2" lengthAdjust="spacingAndGlyphs">(</tspan><tspan x="102.5" y="148.9" font-size="143.5" textLength="111.3" lengthAdjust="spacingAndGlyphs">A</tspan><tspan x="206.9" y="141.8" font-size="134.4" textLength="62.2" lengthAdjust="spacingAndGlyphs">)</tspan></text>
<text font-family="'Liberation Serif','DejaVu Serif',serif" fill="#000" font-weight="bold"><tspan x="2448.2" y="141.8" font-size="134.4" textLength="62.2" lengthAdjust="spacingAndGlyphs">(</tspan><tspan x="2509.2" y="148.9" font-size="143.5" textLength="98.4" lengthAdjust="spacingAndGlyphs">B</tspan><tspan x="2606.9" y="141.8" font-size="134.4" textLength="62.2" lengthAdjust="spacingAndGlyphs">)</tspan></text>
<rect x="510.6" y="208.9" width="124.8" height="124.8" fill="#69B987" fill-opacity="0.1" stroke="#7CCB9B" stroke-width="7"/>
<circle cx="573" cy="271.3" r="22" fill="#75C896" fill-opacity="0.76"/>
<line x1="507.1" y1="271.3" x2="638.9" y2="271.3" stroke="#7CCB9B" stroke-width="8.9"/>
<text font-family="'Liberation Serif','DejaVu Serif',serif" fill="#000" stroke="#000" stroke-width="1.3" stroke-linejoin="round"><tspan x="668.1" y="291.1" font-size="77.5" textLength="217.7" lengthAdjust="spacingAndGlyphs">Spring</tspan></text>
<rect x="939.8" y="208.9" width="124.8" height="124.8" fill="#FFA537" fill-opacity="0.1" stroke="#FFB54D" stroke-width="7"/>
<circle cx="1002.2" cy="271.3" r="22" fill="#FFB144" fill-opacity="0.76"/>
<line x1="936.3" y1="271.3" x2="1068.1" y2="271.3" stroke="#FFB54D" stroke-width="8.9"/>
<text font-family="'Liberation Serif','DejaVu Serif',serif" fill="#000" stroke="#000" stroke-width="1.3" stroke-linejoin="round"><tspan x="1096.1" y="291.1" font-size="77.5" textLength="280.7" lengthAdjust="spacingAndGlyphs">Summer</tspan></text>
<rect x="1431" y="208.9" width="124.8" height="124.8" fill="#CD7341" fill-opacity="0.1" stroke="#CB6B47" stroke-width="7"/>
<circle cx="1493.4" cy="271.3" r="22" fill="#C8633D" fill-opacity="0.76"/>
<line x1="1427.5" y1="271.3" x2="1559.3" y2="271.3" stroke="#CB6B47" stroke-width="8.9"/>
<text font-family="'Liberation Serif','DejaVu Serif',serif" fill="#000" stroke="#000" stroke-width="1.3" stroke-linejoin="round"><tspan x="1589.6" y="291.1" font-size="77.5" textLength="268.5" lengthAdjust="spacingAndGlyphs">Autumn</tspan></text>
<rect x="1912.2" y="208.9" width="124.8" height="124.8" fill="#6987E1" fill-opacity="0.1" stroke="#7C92E3" stroke-width="7"/>
<circle cx="1974.6" cy="271.3" r="22" fill="#758CE2" fill-opacity="0.76"/>
<line x1="1908.7" y1="271.3" x2="2040.5" y2="271.3" stroke="#7C92E3" stroke-width="8.9"/>
<text font-family="'Liberation Serif','DejaVu Serif',serif" fill="#000" stroke="#000" stroke-width="1.3" stroke-linejoin="round"><tspan x="2072.5" y="291.1" font-size="77.5" textLength="227.6" lengthAdjust="spacingAndGlyphs">Winter</tspan></text>
<circle cx="3043.3" cy="122.4" r="22" fill="#FDCF75" fill-opacity="0.76"/>
<line x1="2977.4" y1="122.4" x2="3109.2" y2="122.4" stroke="#FDD17C" stroke-width="8.9"/>
<text font-family="'Liberation Serif','DejaVu Serif',serif" fill="#000" stroke="#000" stroke-width="1.3" stroke-linejoin="round"><tspan x="3140.2" y="141" font-size="77.5" textLength="123.9" lengthAdjust="spacingAndGlyphs">Jun</tspan></text>
<circle cx="3043.3" cy="271.6" r="22" fill="#FEBB45" fill-opacity="0.76"/>
<line x1="2977.4" y1="271.6" x2="3109.2" y2="271.6" stroke="#FEBE4E" stroke-width="8.9"/>
<text font-family="'Liberation Serif','DejaVu Serif',serif" fill="#000" stroke="#000" stroke-width="1.3" stroke-linejoin="round"><tspan x="3139.8" y="290.2" font-size="77.5" textLength="102.7" lengthAdjust="spacingAndGlyphs">Jul</tspan></text>
<circle cx="3381.4" cy="122.4" r="22" fill="#FFA728" fill-opacity="0.76"/>
<line x1="3315.5" y1="122.4" x2="3447.3" y2="122.4" stroke="#FFAB33" stroke-width="8.9"/>
<text font-family="'Liberation Serif','DejaVu Serif',serif" fill="#000" stroke="#000" stroke-width="1.3" stroke-linejoin="round"><tspan x="3476.2" y="141" font-size="77.5" textLength="130.9" lengthAdjust="spacingAndGlyphs">Aug</tspan></text>
<circle cx="3381.4" cy="271.6" r="22" fill="#E48342" fill-opacity="0.76"/>
<line x1="3315.5" y1="271.6" x2="3447.3" y2="271.6" stroke="#E5894B" stroke-width="8.9"/>
<text font-family="'Liberation Serif','DejaVu Serif',serif" fill="#000" stroke="#000" stroke-width="1.3" stroke-linejoin="round"><tspan x="3476.3" y="290.2" font-size="77.5" textLength="120.3" lengthAdjust="spacingAndGlyphs">Sep</tspan></text>
<circle cx="3724.3" cy="122.4" r="22" fill="#C8633D" fill-opacity="0.76"/>
<line x1="3658.4" y1="122.4" x2="3790.2" y2="122.4" stroke="#CB6B47" stroke-width="8.9"/>
<text font-family="'Liberation Serif','DejaVu Serif',serif" fill="#000" stroke="#000" stroke-width="1.3" stroke-linejoin="round"><tspan x="3821" y="141" font-size="77.5" textLength="113" lengthAdjust="spacingAndGlyphs">Oct</tspan></text>
<circle cx="3724.3" cy="271.6" r="22" fill="#9673CB" fill-opacity="0.76"/>
<line x1="3658.4" y1="271.6" x2="3790.2" y2="271.6" stroke="#9B7ACE" stroke-width="8.9"/>
<text font-family="'Liberation Serif','DejaVu Serif',serif" fill="#000" stroke="#000" stroke-width="1.3" stroke-linejoin="round"><tspan x="3823.4" y="290.2" font-size="77.5" textLength="122.9" lengthAdjust="spacingAndGlyphs">Dec</tspan></text>
<circle cx="4061.2" cy="122.4" r="22" fill="#758CE2" fill-opacity="0.76"/>
<line x1="3995.3" y1="122.4" x2="4127.1" y2="122.4" stroke="#7C92E3" stroke-width="8.9"/>
<text font-family="'Liberation Serif','DejaVu Serif',serif" fill="#000" stroke="#000" stroke-width="1.3" stroke-linejoin="round"><tspan x="4158.6" y="141" font-size="77.5" textLength="118.2" lengthAdjust="spacingAndGlyphs">Jan</tspan></text>
<circle cx="4061.2" cy="271.6" r="22" fill="#5D9EF1" fill-opacity="0.76"/>
<line x1="3995.3" y1="271.6" x2="4127.1" y2="271.6" stroke="#65A3F2" stroke-width="8.9"/>
<text font-family="'Liberation Serif','DejaVu Serif',serif" fill="#000" stroke="#000" stroke-width="1.3" stroke-linejoin="round"><tspan x="4160.1" y="290.2" font-size="77.5" textLength="119.3" lengthAdjust="spacingAndGlyphs">Feb</tspan></text>
<circle cx="4396.1" cy="122.4" r="22" fill="#75C896" fill-opacity="0.76"/>
<line x1="4330.2" y1="122.4" x2="4462" y2="122.4" stroke="#7CCB9B" stroke-width="8.9"/>
<text font-family="'Liberation Serif','DejaVu Serif',serif" fill="#000" stroke="#000" stroke-width="1.3" stroke-linejoin="round"><tspan x="4494.1" y="141" font-size="77.5" textLength="135.2" lengthAdjust="spacingAndGlyphs">Mar</tspan></text>
</svg>
</body></html>
